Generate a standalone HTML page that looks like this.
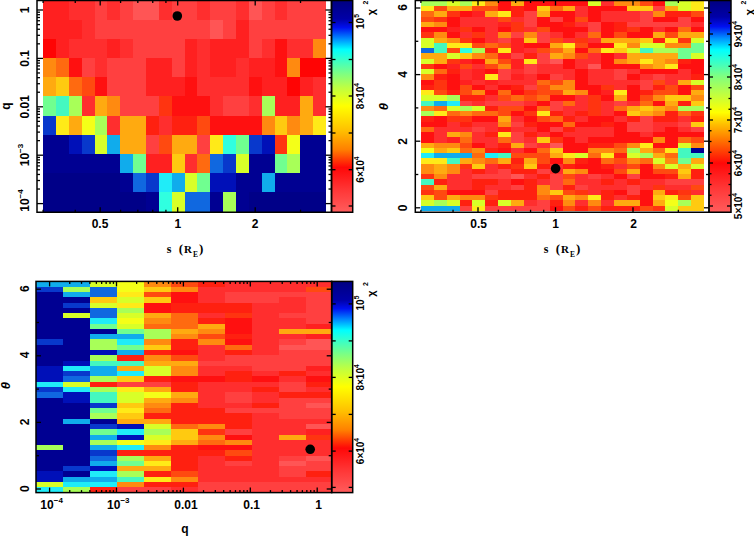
<!DOCTYPE html>
<html><head><meta charset="utf-8"><title>chi2 maps</title>
<style>html,body{margin:0;padding:0;background:#fff}body{width:754px;height:537px;overflow:hidden}</style>
</head><body>
<svg width="754" height="537" viewBox="0 0 754 537" style="display:block">
<defs>
<linearGradient id="cb1" x1="0" y1="1" x2="0" y2="0">
<stop offset="0" stop-color="#ff5c5c"/><stop offset="0.10" stop-color="#ff3838"/><stop offset="0.21" stop-color="#ff0808"/><stop offset="0.295" stop-color="#ff8000"/>
<stop offset="0.385" stop-color="#ffc000"/><stop offset="0.50" stop-color="#ffff00"/><stop offset="0.585" stop-color="#c0ff40"/>
<stop offset="0.65" stop-color="#80ff80"/><stop offset="0.71" stop-color="#40ffc0"/><stop offset="0.767" stop-color="#00ffff"/>
<stop offset="0.815" stop-color="#0090ff"/><stop offset="0.87" stop-color="#0010f0"/><stop offset="0.91" stop-color="#0000a8"/><stop offset="1" stop-color="#000080"/>
</linearGradient>
<linearGradient id="cb2" x1="0" y1="1" x2="0" y2="0">
<stop offset="0" stop-color="#ff5c5c"/><stop offset="0.11" stop-color="#ff3838"/><stop offset="0.23" stop-color="#ff0808"/><stop offset="0.35" stop-color="#ff8000"/>
<stop offset="0.415" stop-color="#ffc000"/><stop offset="0.47" stop-color="#ffff00"/><stop offset="0.555" stop-color="#c0ff40"/>
<stop offset="0.64" stop-color="#80ff80"/><stop offset="0.70" stop-color="#40ffc0"/><stop offset="0.765" stop-color="#00ffff"/>
<stop offset="0.82" stop-color="#0090ff"/><stop offset="0.875" stop-color="#0010f0"/><stop offset="0.92" stop-color="#0000a8"/><stop offset="1" stop-color="#000080"/>
</linearGradient>
</defs>
<rect width="754" height="537" fill="#fff"/>
<g shape-rendering="crispEdges">
<rect x="43.20" y="0.30" width="26.01" height="19.51" fill="#ff2020"/>
<rect x="68.91" y="0.30" width="26.01" height="19.51" fill="#ff2e2e"/>
<rect x="94.62" y="0.30" width="13.15" height="19.51" fill="#ff4040"/>
<rect x="107.47" y="0.30" width="13.15" height="19.51" fill="#ff2e2e"/>
<rect x="120.33" y="0.30" width="13.15" height="19.51" fill="#ff4040"/>
<rect x="133.18" y="0.30" width="26.01" height="19.51" fill="#ff5555"/>
<rect x="158.89" y="0.30" width="13.15" height="19.51" fill="#ff2e2e"/>
<rect x="171.75" y="0.30" width="26.01" height="19.51" fill="#ff4040"/>
<rect x="197.45" y="0.30" width="13.15" height="19.51" fill="#ff2e2e"/>
<rect x="210.31" y="0.30" width="26.01" height="19.51" fill="#ff4040"/>
<rect x="236.02" y="0.30" width="13.15" height="19.51" fill="#ff2e2e"/>
<rect x="248.87" y="0.30" width="13.15" height="19.51" fill="#ff5555"/>
<rect x="261.73" y="0.30" width="13.15" height="19.51" fill="#ff4040"/>
<rect x="274.58" y="0.30" width="13.15" height="19.51" fill="#ff2e2e"/>
<rect x="287.44" y="0.30" width="38.86" height="19.51" fill="#ff4040"/>
<rect x="43.20" y="19.51" width="38.86" height="19.51" fill="#ff2020"/>
<rect x="81.76" y="19.51" width="13.15" height="19.51" fill="#ff2e2e"/>
<rect x="94.62" y="19.51" width="115.99" height="19.51" fill="#ff4040"/>
<rect x="210.31" y="19.51" width="13.15" height="19.51" fill="#ff5555"/>
<rect x="223.16" y="19.51" width="13.15" height="19.51" fill="#ff4040"/>
<rect x="236.02" y="19.51" width="13.15" height="19.51" fill="#ff2020"/>
<rect x="248.87" y="19.51" width="77.43" height="19.51" fill="#ff4040"/>
<rect x="43.20" y="38.72" width="13.15" height="19.51" fill="#ff0404"/>
<rect x="56.05" y="38.72" width="13.15" height="19.51" fill="#ff2020"/>
<rect x="68.91" y="38.72" width="38.86" height="19.51" fill="#ff2e2e"/>
<rect x="107.47" y="38.72" width="13.15" height="19.51" fill="#ff2020"/>
<rect x="120.33" y="38.72" width="13.15" height="19.51" fill="#ff2e2e"/>
<rect x="133.18" y="38.72" width="51.72" height="19.51" fill="#ff4040"/>
<rect x="184.60" y="38.72" width="13.15" height="19.51" fill="#ff2020"/>
<rect x="197.45" y="38.72" width="13.15" height="19.51" fill="#ff2e2e"/>
<rect x="210.31" y="38.72" width="38.86" height="19.51" fill="#ff2020"/>
<rect x="248.87" y="38.72" width="13.15" height="19.51" fill="#ff4040"/>
<rect x="261.73" y="38.72" width="13.15" height="19.51" fill="#ff2e2e"/>
<rect x="274.58" y="38.72" width="13.15" height="19.51" fill="#ff1010"/>
<rect x="287.44" y="38.72" width="26.01" height="19.51" fill="#ff2e2e"/>
<rect x="313.15" y="38.72" width="13.15" height="19.51" fill="#ff8a10"/>
<rect x="43.20" y="57.93" width="13.15" height="19.51" fill="#ff8a10"/>
<rect x="56.05" y="57.93" width="13.15" height="19.51" fill="#ff6a10"/>
<rect x="68.91" y="57.93" width="13.15" height="19.51" fill="#ff1010"/>
<rect x="81.76" y="57.93" width="13.15" height="19.51" fill="#ff4040"/>
<rect x="94.62" y="57.93" width="13.15" height="19.51" fill="#ff2e2e"/>
<rect x="107.47" y="57.93" width="38.86" height="19.51" fill="#ff4040"/>
<rect x="146.04" y="57.93" width="26.01" height="19.51" fill="#ff2020"/>
<rect x="171.75" y="57.93" width="13.15" height="19.51" fill="#ff4040"/>
<rect x="184.60" y="57.93" width="13.15" height="19.51" fill="#ff2020"/>
<rect x="197.45" y="57.93" width="13.15" height="19.51" fill="#ff2e2e"/>
<rect x="210.31" y="57.93" width="26.01" height="19.51" fill="#ff2020"/>
<rect x="236.02" y="57.93" width="13.15" height="19.51" fill="#ff2e2e"/>
<rect x="248.87" y="57.93" width="26.01" height="19.51" fill="#ff2020"/>
<rect x="274.58" y="57.93" width="13.15" height="19.51" fill="#ff1010"/>
<rect x="287.44" y="57.93" width="13.15" height="19.51" fill="#ff8a10"/>
<rect x="300.29" y="57.93" width="26.01" height="19.51" fill="#ff0404"/>
<rect x="43.20" y="77.14" width="13.15" height="19.51" fill="#ffaa10"/>
<rect x="56.05" y="77.14" width="13.15" height="19.51" fill="#ffca10"/>
<rect x="68.91" y="77.14" width="13.15" height="19.51" fill="#ff6a10"/>
<rect x="81.76" y="77.14" width="13.15" height="19.51" fill="#ff4a10"/>
<rect x="94.62" y="77.14" width="13.15" height="19.51" fill="#ff1010"/>
<rect x="107.47" y="77.14" width="38.86" height="19.51" fill="#ff4040"/>
<rect x="146.04" y="77.14" width="38.86" height="19.51" fill="#ff2020"/>
<rect x="184.60" y="77.14" width="13.15" height="19.51" fill="#ff1010"/>
<rect x="197.45" y="77.14" width="51.72" height="19.51" fill="#ff2e2e"/>
<rect x="248.87" y="77.14" width="13.15" height="19.51" fill="#ff1010"/>
<rect x="261.73" y="77.14" width="26.01" height="19.51" fill="#ff2020"/>
<rect x="287.44" y="77.14" width="13.15" height="19.51" fill="#ff0404"/>
<rect x="300.29" y="77.14" width="13.15" height="19.51" fill="#ff2020"/>
<rect x="313.15" y="77.14" width="13.15" height="19.51" fill="#ff2e2e"/>
<rect x="43.20" y="96.35" width="13.15" height="19.51" fill="#70ff90"/>
<rect x="56.05" y="96.35" width="13.15" height="19.51" fill="#44f8c0"/>
<rect x="68.91" y="96.35" width="13.15" height="19.51" fill="#a8ff58"/>
<rect x="81.76" y="96.35" width="13.15" height="19.51" fill="#ff2e2e"/>
<rect x="94.62" y="96.35" width="13.15" height="19.51" fill="#ffaa10"/>
<rect x="107.47" y="96.35" width="13.15" height="19.51" fill="#ff8a10"/>
<rect x="120.33" y="96.35" width="38.86" height="19.51" fill="#ff4040"/>
<rect x="158.89" y="96.35" width="13.15" height="19.51" fill="#ff3410"/>
<rect x="171.75" y="96.35" width="38.86" height="19.51" fill="#ff1010"/>
<rect x="210.31" y="96.35" width="13.15" height="19.51" fill="#ff2e2e"/>
<rect x="223.16" y="96.35" width="26.01" height="19.51" fill="#ff4040"/>
<rect x="248.87" y="96.35" width="13.15" height="19.51" fill="#ff2e2e"/>
<rect x="261.73" y="96.35" width="13.15" height="19.51" fill="#a8ff58"/>
<rect x="274.58" y="96.35" width="26.01" height="19.51" fill="#ff2020"/>
<rect x="300.29" y="96.35" width="13.15" height="19.51" fill="#ffaa10"/>
<rect x="313.15" y="96.35" width="13.15" height="19.51" fill="#ff2e2e"/>
<rect x="43.20" y="115.55" width="13.15" height="19.51" fill="#0838cc"/>
<rect x="56.05" y="115.55" width="13.15" height="19.51" fill="#ffea18"/>
<rect x="68.91" y="115.55" width="13.15" height="19.51" fill="#ffaa10"/>
<rect x="81.76" y="115.55" width="13.15" height="19.51" fill="#f4ff18"/>
<rect x="94.62" y="115.55" width="13.15" height="19.51" fill="#a8ff58"/>
<rect x="107.47" y="115.55" width="13.15" height="19.51" fill="#ff2e2e"/>
<rect x="120.33" y="115.55" width="26.01" height="19.51" fill="#ffaa10"/>
<rect x="146.04" y="115.55" width="13.15" height="19.51" fill="#ff2010"/>
<rect x="158.89" y="115.55" width="13.15" height="19.51" fill="#ff2e2e"/>
<rect x="171.75" y="115.55" width="26.01" height="19.51" fill="#ff2010"/>
<rect x="197.45" y="115.55" width="13.15" height="19.51" fill="#ff4a10"/>
<rect x="210.31" y="115.55" width="51.72" height="19.51" fill="#ff1010"/>
<rect x="261.73" y="115.55" width="13.15" height="19.51" fill="#ff8a10"/>
<rect x="274.58" y="115.55" width="13.15" height="19.51" fill="#ffca10"/>
<rect x="287.44" y="115.55" width="13.15" height="19.51" fill="#ff8a10"/>
<rect x="300.29" y="115.55" width="13.15" height="19.51" fill="#ffaa10"/>
<rect x="313.15" y="115.55" width="13.15" height="19.51" fill="#ffea18"/>
<rect x="43.20" y="134.76" width="26.01" height="19.51" fill="#000092"/>
<rect x="68.91" y="134.76" width="13.15" height="19.51" fill="#0010b8"/>
<rect x="81.76" y="134.76" width="13.15" height="19.51" fill="#0838cc"/>
<rect x="94.62" y="134.76" width="13.15" height="19.51" fill="#d8ff28"/>
<rect x="107.47" y="134.76" width="13.15" height="19.51" fill="#10acec"/>
<rect x="120.33" y="134.76" width="26.01" height="19.51" fill="#ffaa10"/>
<rect x="146.04" y="134.76" width="13.15" height="19.51" fill="#ff4040"/>
<rect x="158.89" y="134.76" width="13.15" height="19.51" fill="#ff4a10"/>
<rect x="171.75" y="134.76" width="26.01" height="19.51" fill="#ffaa10"/>
<rect x="197.45" y="134.76" width="13.15" height="19.51" fill="#ff4040"/>
<rect x="210.31" y="134.76" width="13.15" height="19.51" fill="#ffea18"/>
<rect x="223.16" y="134.76" width="13.15" height="19.51" fill="#30ffe0"/>
<rect x="236.02" y="134.76" width="13.15" height="19.51" fill="#70ff90"/>
<rect x="248.87" y="134.76" width="13.15" height="19.51" fill="#0838cc"/>
<rect x="261.73" y="134.76" width="13.15" height="19.51" fill="#0010b8"/>
<rect x="274.58" y="134.76" width="13.15" height="19.51" fill="#ff3410"/>
<rect x="287.44" y="134.76" width="13.15" height="19.51" fill="#f4ff18"/>
<rect x="300.29" y="134.76" width="26.01" height="19.51" fill="#000092"/>
<rect x="43.20" y="153.97" width="77.43" height="19.51" fill="#000092"/>
<rect x="120.33" y="153.97" width="13.15" height="19.51" fill="#10acec"/>
<rect x="133.18" y="153.97" width="13.15" height="19.51" fill="#70ff90"/>
<rect x="146.04" y="153.97" width="26.01" height="19.51" fill="#ff2020"/>
<rect x="171.75" y="153.97" width="13.15" height="19.51" fill="#ffca10"/>
<rect x="184.60" y="153.97" width="13.15" height="19.51" fill="#ff2e2e"/>
<rect x="197.45" y="153.97" width="13.15" height="19.51" fill="#ff6a10"/>
<rect x="210.31" y="153.97" width="13.15" height="19.51" fill="#1068e0"/>
<rect x="223.16" y="153.97" width="13.15" height="19.51" fill="#0838cc"/>
<rect x="236.02" y="153.97" width="13.15" height="19.51" fill="#d8ff28"/>
<rect x="248.87" y="153.97" width="26.01" height="19.51" fill="#000092"/>
<rect x="274.58" y="153.97" width="13.15" height="19.51" fill="#70ff90"/>
<rect x="287.44" y="153.97" width="13.15" height="19.51" fill="#a8ff58"/>
<rect x="300.29" y="153.97" width="26.01" height="19.51" fill="#000092"/>
<rect x="43.20" y="173.18" width="77.43" height="19.51" fill="#000088"/>
<rect x="120.33" y="173.18" width="13.15" height="19.51" fill="#000092"/>
<rect x="133.18" y="173.18" width="13.15" height="19.51" fill="#1068e0"/>
<rect x="146.04" y="173.18" width="13.15" height="19.51" fill="#0838cc"/>
<rect x="158.89" y="173.18" width="13.15" height="19.51" fill="#20ecf8"/>
<rect x="171.75" y="173.18" width="13.15" height="19.51" fill="#10acec"/>
<rect x="184.60" y="173.18" width="13.15" height="19.51" fill="#d8ff28"/>
<rect x="197.45" y="173.18" width="13.15" height="19.51" fill="#70ff90"/>
<rect x="210.31" y="173.18" width="26.01" height="19.51" fill="#0010b8"/>
<rect x="236.02" y="173.18" width="26.01" height="19.51" fill="#000092"/>
<rect x="261.73" y="173.18" width="13.15" height="19.51" fill="#10acec"/>
<rect x="274.58" y="173.18" width="51.72" height="19.51" fill="#000092"/>
<rect x="43.20" y="192.39" width="103.14" height="19.51" fill="#000088"/>
<rect x="146.04" y="192.39" width="13.15" height="19.51" fill="#000092"/>
<rect x="158.89" y="192.39" width="13.15" height="19.51" fill="#30ffe0"/>
<rect x="171.75" y="192.39" width="13.15" height="19.51" fill="#d8ff28"/>
<rect x="184.60" y="192.39" width="26.01" height="19.51" fill="#1068e0"/>
<rect x="210.31" y="192.39" width="13.15" height="19.51" fill="#000092"/>
<rect x="223.16" y="192.39" width="13.15" height="19.51" fill="#a8ff58"/>
<rect x="236.02" y="192.39" width="13.15" height="19.51" fill="#000092"/>
<rect x="248.87" y="192.39" width="77.43" height="19.51" fill="#000088"/>
<rect x="421.00" y="0.90" width="26.03" height="5.55" fill="#a8ff58"/>
<rect x="446.73" y="0.90" width="13.16" height="5.55" fill="#d8ff28"/>
<rect x="459.59" y="0.90" width="13.16" height="5.55" fill="#a8ff58"/>
<rect x="472.45" y="0.90" width="13.16" height="5.55" fill="#ffea18"/>
<rect x="485.32" y="0.90" width="13.16" height="5.55" fill="#ff8a10"/>
<rect x="498.18" y="0.90" width="13.16" height="5.55" fill="#ff1010"/>
<rect x="511.05" y="0.90" width="13.16" height="5.55" fill="#ffaa10"/>
<rect x="523.91" y="0.90" width="64.62" height="5.55" fill="#ff1010"/>
<rect x="588.23" y="0.90" width="13.16" height="5.55" fill="#d8ff28"/>
<rect x="601.09" y="0.90" width="13.16" height="5.55" fill="#ff2e2e"/>
<rect x="613.95" y="0.90" width="26.03" height="5.55" fill="#ff8a10"/>
<rect x="639.68" y="0.90" width="13.16" height="5.55" fill="#ff4a10"/>
<rect x="652.55" y="0.90" width="13.16" height="5.55" fill="#ff1010"/>
<rect x="665.41" y="0.90" width="13.16" height="5.55" fill="#a8ff58"/>
<rect x="678.27" y="0.90" width="13.16" height="5.55" fill="#d8ff28"/>
<rect x="691.14" y="0.90" width="13.16" height="5.55" fill="#ffea18"/>
<rect x="421.00" y="6.15" width="13.16" height="5.55" fill="#ffea18"/>
<rect x="433.86" y="6.15" width="13.16" height="5.55" fill="#ff4a10"/>
<rect x="446.73" y="6.15" width="26.03" height="5.55" fill="#ffaa10"/>
<rect x="472.45" y="6.15" width="26.03" height="5.55" fill="#ff4a10"/>
<rect x="498.18" y="6.15" width="13.16" height="5.55" fill="#ff1010"/>
<rect x="511.05" y="6.15" width="13.16" height="5.55" fill="#ff2010"/>
<rect x="523.91" y="6.15" width="13.16" height="5.55" fill="#ff1010"/>
<rect x="536.77" y="6.15" width="13.16" height="5.55" fill="#ffca10"/>
<rect x="549.64" y="6.15" width="13.16" height="5.55" fill="#ff6a10"/>
<rect x="562.50" y="6.15" width="13.16" height="5.55" fill="#ffaa10"/>
<rect x="575.36" y="6.15" width="13.16" height="5.55" fill="#ff2e2e"/>
<rect x="588.23" y="6.15" width="38.89" height="5.55" fill="#ff1010"/>
<rect x="626.82" y="6.15" width="26.03" height="5.55" fill="#ffca10"/>
<rect x="652.55" y="6.15" width="13.16" height="5.55" fill="#ff4040"/>
<rect x="665.41" y="6.15" width="13.16" height="5.55" fill="#ffaa10"/>
<rect x="678.27" y="6.15" width="13.16" height="5.55" fill="#d8ff28"/>
<rect x="691.14" y="6.15" width="13.16" height="5.55" fill="#ffea18"/>
<rect x="421.00" y="11.40" width="13.16" height="5.55" fill="#ff6a10"/>
<rect x="433.86" y="11.40" width="13.16" height="5.55" fill="#ffaa10"/>
<rect x="446.73" y="11.40" width="13.16" height="5.55" fill="#ff3410"/>
<rect x="459.59" y="11.40" width="13.16" height="5.55" fill="#ff1010"/>
<rect x="472.45" y="11.40" width="13.16" height="5.55" fill="#ff2020"/>
<rect x="485.32" y="11.40" width="13.16" height="5.55" fill="#ffaa10"/>
<rect x="498.18" y="11.40" width="13.16" height="5.55" fill="#ffea18"/>
<rect x="511.05" y="11.40" width="13.16" height="5.55" fill="#ff2010"/>
<rect x="523.91" y="11.40" width="13.16" height="5.55" fill="#ff4040"/>
<rect x="536.77" y="11.40" width="13.16" height="5.55" fill="#ffaa10"/>
<rect x="549.64" y="11.40" width="26.03" height="5.55" fill="#ff1010"/>
<rect x="575.36" y="11.40" width="13.16" height="5.55" fill="#ff2e2e"/>
<rect x="588.23" y="11.40" width="13.16" height="5.55" fill="#ff1010"/>
<rect x="601.09" y="11.40" width="38.89" height="5.55" fill="#ff2e2e"/>
<rect x="639.68" y="11.40" width="13.16" height="5.55" fill="#ff4040"/>
<rect x="652.55" y="11.40" width="13.16" height="5.55" fill="#ff8a10"/>
<rect x="665.41" y="11.40" width="26.03" height="5.55" fill="#ff2010"/>
<rect x="691.14" y="11.40" width="13.16" height="5.55" fill="#ff4a10"/>
<rect x="421.00" y="16.65" width="13.16" height="5.55" fill="#ff4a10"/>
<rect x="433.86" y="16.65" width="13.16" height="5.55" fill="#ff3410"/>
<rect x="446.73" y="16.65" width="13.16" height="5.55" fill="#ff1010"/>
<rect x="459.59" y="16.65" width="38.89" height="5.55" fill="#ff2e2e"/>
<rect x="498.18" y="16.65" width="13.16" height="5.55" fill="#ff4a10"/>
<rect x="511.05" y="16.65" width="13.16" height="5.55" fill="#ff2e2e"/>
<rect x="523.91" y="16.65" width="13.16" height="5.55" fill="#ff4040"/>
<rect x="536.77" y="16.65" width="13.16" height="5.55" fill="#ff1010"/>
<rect x="549.64" y="16.65" width="13.16" height="5.55" fill="#ff4040"/>
<rect x="562.50" y="16.65" width="13.16" height="5.55" fill="#ff1010"/>
<rect x="575.36" y="16.65" width="13.16" height="5.55" fill="#ff4a10"/>
<rect x="588.23" y="16.65" width="13.16" height="5.55" fill="#ff1010"/>
<rect x="601.09" y="16.65" width="38.89" height="5.55" fill="#ff2e2e"/>
<rect x="639.68" y="16.65" width="13.16" height="5.55" fill="#ff4040"/>
<rect x="652.55" y="16.65" width="26.03" height="5.55" fill="#ff1010"/>
<rect x="678.27" y="16.65" width="13.16" height="5.55" fill="#ff4040"/>
<rect x="691.14" y="16.65" width="13.16" height="5.55" fill="#ff1010"/>
<rect x="421.00" y="21.90" width="13.16" height="5.55" fill="#ffaa10"/>
<rect x="433.86" y="21.90" width="13.16" height="5.55" fill="#ff8a10"/>
<rect x="446.73" y="21.90" width="13.16" height="5.55" fill="#ff1010"/>
<rect x="459.59" y="21.90" width="38.89" height="5.55" fill="#ff2e2e"/>
<rect x="498.18" y="21.90" width="13.16" height="5.55" fill="#ff2020"/>
<rect x="511.05" y="21.90" width="13.16" height="5.55" fill="#ff3410"/>
<rect x="523.91" y="21.90" width="13.16" height="5.55" fill="#ff4040"/>
<rect x="536.77" y="21.90" width="26.03" height="5.55" fill="#ff1010"/>
<rect x="562.50" y="21.90" width="13.16" height="5.55" fill="#ff2010"/>
<rect x="575.36" y="21.90" width="13.16" height="5.55" fill="#ff2e2e"/>
<rect x="588.23" y="21.90" width="13.16" height="5.55" fill="#ff4040"/>
<rect x="601.09" y="21.90" width="13.16" height="5.55" fill="#ff1010"/>
<rect x="613.95" y="21.90" width="13.16" height="5.55" fill="#ff2010"/>
<rect x="626.82" y="21.90" width="64.62" height="5.55" fill="#ff4040"/>
<rect x="691.14" y="21.90" width="13.16" height="5.55" fill="#ff2e2e"/>
<rect x="421.00" y="27.15" width="26.03" height="5.55" fill="#ff1010"/>
<rect x="446.73" y="27.15" width="13.16" height="5.55" fill="#ff2020"/>
<rect x="459.59" y="27.15" width="13.16" height="5.55" fill="#ff3410"/>
<rect x="472.45" y="27.15" width="13.16" height="5.55" fill="#ff1010"/>
<rect x="485.32" y="27.15" width="13.16" height="5.55" fill="#ff2e2e"/>
<rect x="498.18" y="27.15" width="13.16" height="5.55" fill="#ff1010"/>
<rect x="511.05" y="27.15" width="13.16" height="5.55" fill="#ff3410"/>
<rect x="523.91" y="27.15" width="13.16" height="5.55" fill="#ff2e2e"/>
<rect x="536.77" y="27.15" width="13.16" height="5.55" fill="#ff4a10"/>
<rect x="549.64" y="27.15" width="38.89" height="5.55" fill="#ff1010"/>
<rect x="588.23" y="27.15" width="13.16" height="5.55" fill="#ff4040"/>
<rect x="601.09" y="27.15" width="13.16" height="5.55" fill="#ff1010"/>
<rect x="613.95" y="27.15" width="13.16" height="5.55" fill="#ff2010"/>
<rect x="626.82" y="27.15" width="13.16" height="5.55" fill="#ff3410"/>
<rect x="639.68" y="27.15" width="13.16" height="5.55" fill="#ff1010"/>
<rect x="652.55" y="27.15" width="13.16" height="5.55" fill="#ff2e2e"/>
<rect x="665.41" y="27.15" width="13.16" height="5.55" fill="#ff1010"/>
<rect x="678.27" y="27.15" width="13.16" height="5.55" fill="#ff6a10"/>
<rect x="691.14" y="27.15" width="13.16" height="5.55" fill="#ff1010"/>
<rect x="421.00" y="32.40" width="13.16" height="5.55" fill="#ff3410"/>
<rect x="433.86" y="32.40" width="13.16" height="5.55" fill="#ff8a10"/>
<rect x="446.73" y="32.40" width="13.16" height="5.55" fill="#ff1010"/>
<rect x="459.59" y="32.40" width="13.16" height="5.55" fill="#ff2e2e"/>
<rect x="472.45" y="32.40" width="13.16" height="5.55" fill="#ff3410"/>
<rect x="485.32" y="32.40" width="13.16" height="5.55" fill="#ff2e2e"/>
<rect x="498.18" y="32.40" width="13.16" height="5.55" fill="#ff8a10"/>
<rect x="511.05" y="32.40" width="13.16" height="5.55" fill="#ff4040"/>
<rect x="523.91" y="32.40" width="13.16" height="5.55" fill="#ff8a10"/>
<rect x="536.77" y="32.40" width="13.16" height="5.55" fill="#ff4040"/>
<rect x="549.64" y="32.40" width="13.16" height="5.55" fill="#ff2e2e"/>
<rect x="562.50" y="32.40" width="13.16" height="5.55" fill="#ff1010"/>
<rect x="575.36" y="32.40" width="13.16" height="5.55" fill="#ff2e2e"/>
<rect x="588.23" y="32.40" width="13.16" height="5.55" fill="#ff6a10"/>
<rect x="601.09" y="32.40" width="13.16" height="5.55" fill="#ff1010"/>
<rect x="613.95" y="32.40" width="13.16" height="5.55" fill="#ff4a10"/>
<rect x="626.82" y="32.40" width="26.03" height="5.55" fill="#ff1010"/>
<rect x="652.55" y="32.40" width="13.16" height="5.55" fill="#ffaa10"/>
<rect x="665.41" y="32.40" width="13.16" height="5.55" fill="#ff4a10"/>
<rect x="678.27" y="32.40" width="26.03" height="5.55" fill="#ffaa10"/>
<rect x="421.00" y="37.65" width="13.16" height="5.55" fill="#d8ff28"/>
<rect x="433.86" y="37.65" width="13.16" height="5.55" fill="#ffaa10"/>
<rect x="446.73" y="37.65" width="13.16" height="5.55" fill="#ff8a10"/>
<rect x="459.59" y="37.65" width="13.16" height="5.55" fill="#ff3410"/>
<rect x="472.45" y="37.65" width="13.16" height="5.55" fill="#ff1010"/>
<rect x="485.32" y="37.65" width="13.16" height="5.55" fill="#ff2e2e"/>
<rect x="498.18" y="37.65" width="13.16" height="5.55" fill="#ff4040"/>
<rect x="511.05" y="37.65" width="13.16" height="5.55" fill="#ff2020"/>
<rect x="523.91" y="37.65" width="13.16" height="5.55" fill="#ffca10"/>
<rect x="536.77" y="37.65" width="13.16" height="5.55" fill="#ff4040"/>
<rect x="549.64" y="37.65" width="13.16" height="5.55" fill="#ff4a10"/>
<rect x="562.50" y="37.65" width="13.16" height="5.55" fill="#ff2e2e"/>
<rect x="575.36" y="37.65" width="13.16" height="5.55" fill="#ff3410"/>
<rect x="588.23" y="37.65" width="13.16" height="5.55" fill="#ff2e2e"/>
<rect x="601.09" y="37.65" width="38.89" height="5.55" fill="#ffaa10"/>
<rect x="639.68" y="37.65" width="13.16" height="5.55" fill="#ffca10"/>
<rect x="652.55" y="37.65" width="13.16" height="5.55" fill="#ff2010"/>
<rect x="665.41" y="37.65" width="13.16" height="5.55" fill="#ffea18"/>
<rect x="678.27" y="37.65" width="13.16" height="5.55" fill="#ff3410"/>
<rect x="691.14" y="37.65" width="13.16" height="5.55" fill="#d8ff28"/>
<rect x="421.00" y="42.90" width="13.16" height="5.55" fill="#d8ff28"/>
<rect x="433.86" y="42.90" width="13.16" height="5.55" fill="#44f8c0"/>
<rect x="446.73" y="42.90" width="26.03" height="5.55" fill="#ffea18"/>
<rect x="472.45" y="42.90" width="13.16" height="5.55" fill="#ff4a10"/>
<rect x="485.32" y="42.90" width="13.16" height="5.55" fill="#ff6a10"/>
<rect x="498.18" y="42.90" width="13.16" height="5.55" fill="#ff4a10"/>
<rect x="511.05" y="42.90" width="13.16" height="5.55" fill="#ff2020"/>
<rect x="523.91" y="42.90" width="26.03" height="5.55" fill="#ff1010"/>
<rect x="549.64" y="42.90" width="13.16" height="5.55" fill="#ffaa10"/>
<rect x="562.50" y="42.90" width="13.16" height="5.55" fill="#ffea18"/>
<rect x="575.36" y="42.90" width="13.16" height="5.55" fill="#ff4a10"/>
<rect x="588.23" y="42.90" width="26.03" height="5.55" fill="#ff1010"/>
<rect x="613.95" y="42.90" width="13.16" height="5.55" fill="#ffea18"/>
<rect x="626.82" y="42.90" width="13.16" height="5.55" fill="#ff8a10"/>
<rect x="639.68" y="42.90" width="26.03" height="5.55" fill="#d8ff28"/>
<rect x="665.41" y="42.90" width="26.03" height="5.55" fill="#ff8a10"/>
<rect x="691.14" y="42.90" width="13.16" height="5.55" fill="#70ff90"/>
<rect x="421.00" y="48.15" width="13.16" height="5.55" fill="#1068e0"/>
<rect x="433.86" y="48.15" width="13.16" height="5.55" fill="#44f8c0"/>
<rect x="446.73" y="48.15" width="13.16" height="5.55" fill="#ff4a10"/>
<rect x="459.59" y="48.15" width="13.16" height="5.55" fill="#30ffe0"/>
<rect x="472.45" y="48.15" width="13.16" height="5.55" fill="#a8ff58"/>
<rect x="485.32" y="48.15" width="13.16" height="5.55" fill="#ff2010"/>
<rect x="498.18" y="48.15" width="13.16" height="5.55" fill="#ffea18"/>
<rect x="511.05" y="48.15" width="13.16" height="5.55" fill="#ff2020"/>
<rect x="523.91" y="48.15" width="13.16" height="5.55" fill="#ff2e2e"/>
<rect x="536.77" y="48.15" width="13.16" height="5.55" fill="#ff4a10"/>
<rect x="549.64" y="48.15" width="13.16" height="5.55" fill="#ff6a10"/>
<rect x="562.50" y="48.15" width="13.16" height="5.55" fill="#ffaa10"/>
<rect x="575.36" y="48.15" width="13.16" height="5.55" fill="#ff1010"/>
<rect x="588.23" y="48.15" width="13.16" height="5.55" fill="#ff6a10"/>
<rect x="601.09" y="48.15" width="13.16" height="5.55" fill="#ffea18"/>
<rect x="613.95" y="48.15" width="13.16" height="5.55" fill="#ffca10"/>
<rect x="626.82" y="48.15" width="13.16" height="5.55" fill="#d8ff28"/>
<rect x="639.68" y="48.15" width="13.16" height="5.55" fill="#44f8c0"/>
<rect x="652.55" y="48.15" width="26.03" height="5.55" fill="#a8ff58"/>
<rect x="678.27" y="48.15" width="26.03" height="5.55" fill="#70ff90"/>
<rect x="421.00" y="53.40" width="26.03" height="5.55" fill="#ffaa10"/>
<rect x="446.73" y="53.40" width="13.16" height="5.55" fill="#d8ff28"/>
<rect x="459.59" y="53.40" width="13.16" height="5.55" fill="#ffca10"/>
<rect x="472.45" y="53.40" width="13.16" height="5.55" fill="#ff8a10"/>
<rect x="485.32" y="53.40" width="13.16" height="5.55" fill="#ff6a10"/>
<rect x="498.18" y="53.40" width="13.16" height="5.55" fill="#ff2020"/>
<rect x="511.05" y="53.40" width="13.16" height="5.55" fill="#ff4040"/>
<rect x="523.91" y="53.40" width="13.16" height="5.55" fill="#ff2010"/>
<rect x="536.77" y="53.40" width="13.16" height="5.55" fill="#ff4040"/>
<rect x="549.64" y="53.40" width="13.16" height="5.55" fill="#ffaa10"/>
<rect x="562.50" y="53.40" width="13.16" height="5.55" fill="#ff8a10"/>
<rect x="575.36" y="53.40" width="13.16" height="5.55" fill="#ff4a10"/>
<rect x="588.23" y="53.40" width="13.16" height="5.55" fill="#ff2e2e"/>
<rect x="601.09" y="53.40" width="13.16" height="5.55" fill="#ff1010"/>
<rect x="613.95" y="53.40" width="13.16" height="5.55" fill="#ff2e2e"/>
<rect x="626.82" y="53.40" width="51.75" height="5.55" fill="#ffaa10"/>
<rect x="678.27" y="53.40" width="13.16" height="5.55" fill="#70ff90"/>
<rect x="691.14" y="53.40" width="13.16" height="5.55" fill="#d8ff28"/>
<rect x="421.00" y="58.65" width="13.16" height="5.55" fill="#d8ff28"/>
<rect x="433.86" y="58.65" width="13.16" height="5.55" fill="#ffaa10"/>
<rect x="446.73" y="58.65" width="13.16" height="5.55" fill="#ff3410"/>
<rect x="459.59" y="58.65" width="13.16" height="5.55" fill="#ff2020"/>
<rect x="472.45" y="58.65" width="13.16" height="5.55" fill="#ff1010"/>
<rect x="485.32" y="58.65" width="13.16" height="5.55" fill="#ffaa10"/>
<rect x="498.18" y="58.65" width="13.16" height="5.55" fill="#ff4a10"/>
<rect x="511.05" y="58.65" width="13.16" height="5.55" fill="#ff2020"/>
<rect x="523.91" y="58.65" width="13.16" height="5.55" fill="#ffea18"/>
<rect x="536.77" y="58.65" width="13.16" height="5.55" fill="#ff4040"/>
<rect x="549.64" y="58.65" width="13.16" height="5.55" fill="#ff5555"/>
<rect x="562.50" y="58.65" width="13.16" height="5.55" fill="#ff1010"/>
<rect x="575.36" y="58.65" width="26.03" height="5.55" fill="#ff2e2e"/>
<rect x="601.09" y="58.65" width="13.16" height="5.55" fill="#ff1010"/>
<rect x="613.95" y="58.65" width="13.16" height="5.55" fill="#ff8a10"/>
<rect x="626.82" y="58.65" width="13.16" height="5.55" fill="#ffaa10"/>
<rect x="639.68" y="58.65" width="13.16" height="5.55" fill="#ffea18"/>
<rect x="652.55" y="58.65" width="13.16" height="5.55" fill="#ffaa10"/>
<rect x="665.41" y="58.65" width="13.16" height="5.55" fill="#ff8a10"/>
<rect x="678.27" y="58.65" width="13.16" height="5.55" fill="#ff2010"/>
<rect x="691.14" y="58.65" width="13.16" height="5.55" fill="#ff1010"/>
<rect x="421.00" y="63.90" width="13.16" height="5.55" fill="#ff3410"/>
<rect x="433.86" y="63.90" width="13.16" height="5.55" fill="#ff1010"/>
<rect x="446.73" y="63.90" width="13.16" height="5.55" fill="#ff2020"/>
<rect x="459.59" y="63.90" width="13.16" height="5.55" fill="#ff4a10"/>
<rect x="472.45" y="63.90" width="13.16" height="5.55" fill="#ff2e2e"/>
<rect x="485.32" y="63.90" width="13.16" height="5.55" fill="#ff4a10"/>
<rect x="498.18" y="63.90" width="13.16" height="5.55" fill="#ff8a10"/>
<rect x="511.05" y="63.90" width="13.16" height="5.55" fill="#ff2020"/>
<rect x="523.91" y="63.90" width="13.16" height="5.55" fill="#ff4040"/>
<rect x="536.77" y="63.90" width="26.03" height="5.55" fill="#ff2e2e"/>
<rect x="562.50" y="63.90" width="13.16" height="5.55" fill="#ff1010"/>
<rect x="575.36" y="63.90" width="13.16" height="5.55" fill="#ff2e2e"/>
<rect x="588.23" y="63.90" width="13.16" height="5.55" fill="#ff5555"/>
<rect x="601.09" y="63.90" width="38.89" height="5.55" fill="#ff1010"/>
<rect x="639.68" y="63.90" width="13.16" height="5.55" fill="#ff8a10"/>
<rect x="652.55" y="63.90" width="13.16" height="5.55" fill="#ffaa10"/>
<rect x="665.41" y="63.90" width="13.16" height="5.55" fill="#ffea18"/>
<rect x="678.27" y="63.90" width="26.03" height="5.55" fill="#ff1010"/>
<rect x="421.00" y="69.15" width="13.16" height="5.55" fill="#d8ff28"/>
<rect x="433.86" y="69.15" width="13.16" height="5.55" fill="#ff6a10"/>
<rect x="446.73" y="69.15" width="13.16" height="5.55" fill="#ff2010"/>
<rect x="459.59" y="69.15" width="13.16" height="5.55" fill="#ff2e2e"/>
<rect x="472.45" y="69.15" width="13.16" height="5.55" fill="#ff2020"/>
<rect x="485.32" y="69.15" width="13.16" height="5.55" fill="#ff1010"/>
<rect x="498.18" y="69.15" width="13.16" height="5.55" fill="#ff4040"/>
<rect x="511.05" y="69.15" width="13.16" height="5.55" fill="#ff2e2e"/>
<rect x="523.91" y="69.15" width="13.16" height="5.55" fill="#ff4040"/>
<rect x="536.77" y="69.15" width="38.89" height="5.55" fill="#ff2e2e"/>
<rect x="575.36" y="69.15" width="13.16" height="5.55" fill="#ff1010"/>
<rect x="588.23" y="69.15" width="26.03" height="5.55" fill="#ff2e2e"/>
<rect x="613.95" y="69.15" width="13.16" height="5.55" fill="#ff4040"/>
<rect x="626.82" y="69.15" width="13.16" height="5.55" fill="#ff2e2e"/>
<rect x="639.68" y="69.15" width="38.89" height="5.55" fill="#ff1010"/>
<rect x="678.27" y="69.15" width="13.16" height="5.55" fill="#ff2e2e"/>
<rect x="691.14" y="69.15" width="13.16" height="5.55" fill="#ff1010"/>
<rect x="421.00" y="74.40" width="13.16" height="5.55" fill="#ff8a10"/>
<rect x="433.86" y="74.40" width="13.16" height="5.55" fill="#ff2010"/>
<rect x="446.73" y="74.40" width="13.16" height="5.55" fill="#ff1010"/>
<rect x="459.59" y="74.40" width="13.16" height="5.55" fill="#ff2e2e"/>
<rect x="472.45" y="74.40" width="13.16" height="5.55" fill="#ff2020"/>
<rect x="485.32" y="74.40" width="13.16" height="5.55" fill="#ffea18"/>
<rect x="498.18" y="74.40" width="13.16" height="5.55" fill="#ff4040"/>
<rect x="511.05" y="74.40" width="13.16" height="5.55" fill="#ff2020"/>
<rect x="523.91" y="74.40" width="13.16" height="5.55" fill="#ff2e2e"/>
<rect x="536.77" y="74.40" width="13.16" height="5.55" fill="#ff1010"/>
<rect x="549.64" y="74.40" width="13.16" height="5.55" fill="#ff4040"/>
<rect x="562.50" y="74.40" width="13.16" height="5.55" fill="#ff2e2e"/>
<rect x="575.36" y="74.40" width="13.16" height="5.55" fill="#ff1010"/>
<rect x="588.23" y="74.40" width="26.03" height="5.55" fill="#ff2e2e"/>
<rect x="613.95" y="74.40" width="13.16" height="5.55" fill="#ff4040"/>
<rect x="626.82" y="74.40" width="13.16" height="5.55" fill="#ff1010"/>
<rect x="639.68" y="74.40" width="13.16" height="5.55" fill="#ff2e2e"/>
<rect x="652.55" y="74.40" width="13.16" height="5.55" fill="#ff4040"/>
<rect x="665.41" y="74.40" width="26.03" height="5.55" fill="#ff2e2e"/>
<rect x="691.14" y="74.40" width="13.16" height="5.55" fill="#ff2010"/>
<rect x="421.00" y="79.65" width="13.16" height="5.55" fill="#ff1010"/>
<rect x="433.86" y="79.65" width="13.16" height="5.55" fill="#ff3410"/>
<rect x="446.73" y="79.65" width="13.16" height="5.55" fill="#ff1010"/>
<rect x="459.59" y="79.65" width="13.16" height="5.55" fill="#ff2020"/>
<rect x="472.45" y="79.65" width="13.16" height="5.55" fill="#ff2e2e"/>
<rect x="485.32" y="79.65" width="13.16" height="5.55" fill="#ff2020"/>
<rect x="498.18" y="79.65" width="38.89" height="5.55" fill="#ff2e2e"/>
<rect x="536.77" y="79.65" width="13.16" height="5.55" fill="#ff6a10"/>
<rect x="549.64" y="79.65" width="13.16" height="5.55" fill="#ff4a10"/>
<rect x="562.50" y="79.65" width="13.16" height="5.55" fill="#ff8a10"/>
<rect x="575.36" y="79.65" width="13.16" height="5.55" fill="#ff1010"/>
<rect x="588.23" y="79.65" width="51.75" height="5.55" fill="#ff2e2e"/>
<rect x="639.68" y="79.65" width="13.16" height="5.55" fill="#ff4040"/>
<rect x="652.55" y="79.65" width="13.16" height="5.55" fill="#ff4a10"/>
<rect x="665.41" y="79.65" width="13.16" height="5.55" fill="#ff2e2e"/>
<rect x="678.27" y="79.65" width="13.16" height="5.55" fill="#ffaa10"/>
<rect x="691.14" y="79.65" width="13.16" height="5.55" fill="#d8ff28"/>
<rect x="421.00" y="84.90" width="13.16" height="5.55" fill="#ff2010"/>
<rect x="433.86" y="84.90" width="13.16" height="5.55" fill="#ff3410"/>
<rect x="446.73" y="84.90" width="13.16" height="5.55" fill="#ff1010"/>
<rect x="459.59" y="84.90" width="13.16" height="5.55" fill="#ff4a10"/>
<rect x="472.45" y="84.90" width="13.16" height="5.55" fill="#ff1010"/>
<rect x="485.32" y="84.90" width="13.16" height="5.55" fill="#ff2e2e"/>
<rect x="498.18" y="84.90" width="13.16" height="5.55" fill="#ff1010"/>
<rect x="511.05" y="84.90" width="13.16" height="5.55" fill="#ff2010"/>
<rect x="523.91" y="84.90" width="13.16" height="5.55" fill="#ff4040"/>
<rect x="536.77" y="84.90" width="13.16" height="5.55" fill="#ff4a10"/>
<rect x="549.64" y="84.90" width="26.03" height="5.55" fill="#ff8a10"/>
<rect x="575.36" y="84.90" width="26.03" height="5.55" fill="#ff1010"/>
<rect x="601.09" y="84.90" width="13.16" height="5.55" fill="#ff3410"/>
<rect x="613.95" y="84.90" width="13.16" height="5.55" fill="#ff2e2e"/>
<rect x="626.82" y="84.90" width="13.16" height="5.55" fill="#ff1010"/>
<rect x="639.68" y="84.90" width="13.16" height="5.55" fill="#ff4040"/>
<rect x="652.55" y="84.90" width="13.16" height="5.55" fill="#ff2010"/>
<rect x="665.41" y="84.90" width="13.16" height="5.55" fill="#ff4a10"/>
<rect x="678.27" y="84.90" width="13.16" height="5.55" fill="#ff1010"/>
<rect x="691.14" y="84.90" width="13.16" height="5.55" fill="#ff4a10"/>
<rect x="421.00" y="90.15" width="13.16" height="5.55" fill="#ffea18"/>
<rect x="433.86" y="90.15" width="13.16" height="5.55" fill="#ff4a10"/>
<rect x="446.73" y="90.15" width="13.16" height="5.55" fill="#ff2010"/>
<rect x="459.59" y="90.15" width="13.16" height="5.55" fill="#ff4a10"/>
<rect x="472.45" y="90.15" width="13.16" height="5.55" fill="#ff8a10"/>
<rect x="485.32" y="90.15" width="13.16" height="5.55" fill="#ff1010"/>
<rect x="498.18" y="90.15" width="13.16" height="5.55" fill="#ff6a10"/>
<rect x="511.05" y="90.15" width="13.16" height="5.55" fill="#ff1010"/>
<rect x="523.91" y="90.15" width="13.16" height="5.55" fill="#ff3410"/>
<rect x="536.77" y="90.15" width="26.03" height="5.55" fill="#ff4a10"/>
<rect x="562.50" y="90.15" width="13.16" height="5.55" fill="#ffaa10"/>
<rect x="575.36" y="90.15" width="13.16" height="5.55" fill="#ff8a10"/>
<rect x="588.23" y="90.15" width="13.16" height="5.55" fill="#ff1010"/>
<rect x="601.09" y="90.15" width="13.16" height="5.55" fill="#ff2020"/>
<rect x="613.95" y="90.15" width="13.16" height="5.55" fill="#ffea18"/>
<rect x="626.82" y="90.15" width="13.16" height="5.55" fill="#ff1010"/>
<rect x="639.68" y="90.15" width="13.16" height="5.55" fill="#ff2010"/>
<rect x="652.55" y="90.15" width="26.03" height="5.55" fill="#ff4a10"/>
<rect x="678.27" y="90.15" width="13.16" height="5.55" fill="#ff1010"/>
<rect x="691.14" y="90.15" width="13.16" height="5.55" fill="#ffaa10"/>
<rect x="421.00" y="95.40" width="26.03" height="5.55" fill="#d8ff28"/>
<rect x="446.73" y="95.40" width="13.16" height="5.55" fill="#a8ff58"/>
<rect x="459.59" y="95.40" width="26.03" height="5.55" fill="#ff2010"/>
<rect x="485.32" y="95.40" width="13.16" height="5.55" fill="#ff2e2e"/>
<rect x="498.18" y="95.40" width="13.16" height="5.55" fill="#ff4a10"/>
<rect x="511.05" y="95.40" width="13.16" height="5.55" fill="#ff6a10"/>
<rect x="523.91" y="95.40" width="13.16" height="5.55" fill="#ff4a10"/>
<rect x="536.77" y="95.40" width="13.16" height="5.55" fill="#ff6a10"/>
<rect x="549.64" y="95.40" width="26.03" height="5.55" fill="#ff1010"/>
<rect x="575.36" y="95.40" width="13.16" height="5.55" fill="#ff2e2e"/>
<rect x="588.23" y="95.40" width="13.16" height="5.55" fill="#ff3410"/>
<rect x="601.09" y="95.40" width="13.16" height="5.55" fill="#ff1010"/>
<rect x="613.95" y="95.40" width="13.16" height="5.55" fill="#ffaa10"/>
<rect x="626.82" y="95.40" width="13.16" height="5.55" fill="#ff1010"/>
<rect x="639.68" y="95.40" width="13.16" height="5.55" fill="#ff4a10"/>
<rect x="652.55" y="95.40" width="13.16" height="5.55" fill="#ff8a10"/>
<rect x="665.41" y="95.40" width="26.03" height="5.55" fill="#ffca10"/>
<rect x="691.14" y="95.40" width="13.16" height="5.55" fill="#ff8a10"/>
<rect x="421.00" y="100.65" width="13.16" height="5.55" fill="#44f8c0"/>
<rect x="433.86" y="100.65" width="13.16" height="5.55" fill="#10acec"/>
<rect x="446.73" y="100.65" width="13.16" height="5.55" fill="#20ecf8"/>
<rect x="459.59" y="100.65" width="13.16" height="5.55" fill="#ff4040"/>
<rect x="472.45" y="100.65" width="13.16" height="5.55" fill="#ff2e2e"/>
<rect x="485.32" y="100.65" width="38.89" height="5.55" fill="#ff4040"/>
<rect x="523.91" y="100.65" width="13.16" height="5.55" fill="#ff2e2e"/>
<rect x="536.77" y="100.65" width="13.16" height="5.55" fill="#ff1010"/>
<rect x="549.64" y="100.65" width="13.16" height="5.55" fill="#ff4040"/>
<rect x="562.50" y="100.65" width="13.16" height="5.55" fill="#ff6a10"/>
<rect x="575.36" y="100.65" width="13.16" height="5.55" fill="#ff2e2e"/>
<rect x="588.23" y="100.65" width="13.16" height="5.55" fill="#ff3410"/>
<rect x="601.09" y="100.65" width="13.16" height="5.55" fill="#ff2e2e"/>
<rect x="613.95" y="100.65" width="13.16" height="5.55" fill="#ff4040"/>
<rect x="626.82" y="100.65" width="13.16" height="5.55" fill="#ff2e2e"/>
<rect x="639.68" y="100.65" width="13.16" height="5.55" fill="#ff6a10"/>
<rect x="652.55" y="100.65" width="13.16" height="5.55" fill="#ff1010"/>
<rect x="665.41" y="100.65" width="13.16" height="5.55" fill="#ffaa10"/>
<rect x="678.27" y="100.65" width="13.16" height="5.55" fill="#ff2010"/>
<rect x="691.14" y="100.65" width="13.16" height="5.55" fill="#ffca10"/>
<rect x="421.00" y="105.90" width="13.16" height="5.55" fill="#ff8a10"/>
<rect x="433.86" y="105.90" width="13.16" height="5.55" fill="#ff6a10"/>
<rect x="446.73" y="105.90" width="13.16" height="5.55" fill="#d8ff28"/>
<rect x="459.59" y="105.90" width="13.16" height="5.55" fill="#a8ff58"/>
<rect x="472.45" y="105.90" width="13.16" height="5.55" fill="#d8ff28"/>
<rect x="485.32" y="105.90" width="13.16" height="5.55" fill="#ff2010"/>
<rect x="498.18" y="105.90" width="26.03" height="5.55" fill="#ff4a10"/>
<rect x="523.91" y="105.90" width="13.16" height="5.55" fill="#ff1010"/>
<rect x="536.77" y="105.90" width="13.16" height="5.55" fill="#ff6a10"/>
<rect x="549.64" y="105.90" width="13.16" height="5.55" fill="#ff4040"/>
<rect x="562.50" y="105.90" width="26.03" height="5.55" fill="#ff2e2e"/>
<rect x="588.23" y="105.90" width="13.16" height="5.55" fill="#ff3410"/>
<rect x="601.09" y="105.90" width="13.16" height="5.55" fill="#ff2e2e"/>
<rect x="613.95" y="105.90" width="13.16" height="5.55" fill="#ff6a10"/>
<rect x="626.82" y="105.90" width="13.16" height="5.55" fill="#ffaa10"/>
<rect x="639.68" y="105.90" width="13.16" height="5.55" fill="#ffca10"/>
<rect x="652.55" y="105.90" width="13.16" height="5.55" fill="#ffaa10"/>
<rect x="665.41" y="105.90" width="13.16" height="5.55" fill="#ff8a10"/>
<rect x="678.27" y="105.90" width="26.03" height="5.55" fill="#a8ff58"/>
<rect x="421.00" y="111.15" width="13.16" height="5.55" fill="#a8ff58"/>
<rect x="433.86" y="111.15" width="13.16" height="5.55" fill="#ffea18"/>
<rect x="446.73" y="111.15" width="13.16" height="5.55" fill="#ff6a10"/>
<rect x="459.59" y="111.15" width="13.16" height="5.55" fill="#ff8a10"/>
<rect x="472.45" y="111.15" width="26.03" height="5.55" fill="#ff6a10"/>
<rect x="498.18" y="111.15" width="13.16" height="5.55" fill="#ff4a10"/>
<rect x="511.05" y="111.15" width="13.16" height="5.55" fill="#ff1010"/>
<rect x="523.91" y="111.15" width="13.16" height="5.55" fill="#ff3410"/>
<rect x="536.77" y="111.15" width="13.16" height="5.55" fill="#ffea18"/>
<rect x="549.64" y="111.15" width="13.16" height="5.55" fill="#ff2010"/>
<rect x="562.50" y="111.15" width="13.16" height="5.55" fill="#ff2e2e"/>
<rect x="575.36" y="111.15" width="13.16" height="5.55" fill="#ff2010"/>
<rect x="588.23" y="111.15" width="13.16" height="5.55" fill="#ff3410"/>
<rect x="601.09" y="111.15" width="13.16" height="5.55" fill="#ff2e2e"/>
<rect x="613.95" y="111.15" width="13.16" height="5.55" fill="#ff1010"/>
<rect x="626.82" y="111.15" width="13.16" height="5.55" fill="#ffca10"/>
<rect x="639.68" y="111.15" width="13.16" height="5.55" fill="#ffaa10"/>
<rect x="652.55" y="111.15" width="13.16" height="5.55" fill="#ff8a10"/>
<rect x="665.41" y="111.15" width="13.16" height="5.55" fill="#ff2010"/>
<rect x="678.27" y="111.15" width="13.16" height="5.55" fill="#ff6a10"/>
<rect x="691.14" y="111.15" width="13.16" height="5.55" fill="#ff3410"/>
<rect x="421.00" y="116.40" width="13.16" height="5.55" fill="#ff2010"/>
<rect x="433.86" y="116.40" width="13.16" height="5.55" fill="#ff1010"/>
<rect x="446.73" y="116.40" width="26.03" height="5.55" fill="#ff3410"/>
<rect x="472.45" y="116.40" width="26.03" height="5.55" fill="#ff1010"/>
<rect x="498.18" y="116.40" width="13.16" height="5.55" fill="#ffaa10"/>
<rect x="511.05" y="116.40" width="13.16" height="5.55" fill="#ff2e2e"/>
<rect x="523.91" y="116.40" width="13.16" height="5.55" fill="#ff1010"/>
<rect x="536.77" y="116.40" width="13.16" height="5.55" fill="#ff4a10"/>
<rect x="549.64" y="116.40" width="13.16" height="5.55" fill="#ff6a10"/>
<rect x="562.50" y="116.40" width="13.16" height="5.55" fill="#ff2010"/>
<rect x="575.36" y="116.40" width="13.16" height="5.55" fill="#ff2e2e"/>
<rect x="588.23" y="116.40" width="26.03" height="5.55" fill="#ff1010"/>
<rect x="613.95" y="116.40" width="13.16" height="5.55" fill="#ff2e2e"/>
<rect x="626.82" y="116.40" width="13.16" height="5.55" fill="#ff2010"/>
<rect x="639.68" y="116.40" width="13.16" height="5.55" fill="#ff4040"/>
<rect x="652.55" y="116.40" width="26.03" height="5.55" fill="#ff2010"/>
<rect x="678.27" y="116.40" width="13.16" height="5.55" fill="#ff2e2e"/>
<rect x="691.14" y="116.40" width="13.16" height="5.55" fill="#ff2010"/>
<rect x="421.00" y="121.65" width="26.03" height="5.55" fill="#ff1010"/>
<rect x="446.73" y="121.65" width="13.16" height="5.55" fill="#ff2e2e"/>
<rect x="459.59" y="121.65" width="13.16" height="5.55" fill="#ff2010"/>
<rect x="472.45" y="121.65" width="26.03" height="5.55" fill="#ff2e2e"/>
<rect x="498.18" y="121.65" width="13.16" height="5.55" fill="#ff8a10"/>
<rect x="511.05" y="121.65" width="13.16" height="5.55" fill="#ff4040"/>
<rect x="523.91" y="121.65" width="13.16" height="5.55" fill="#ff2010"/>
<rect x="536.77" y="121.65" width="26.03" height="5.55" fill="#ff1010"/>
<rect x="562.50" y="121.65" width="13.16" height="5.55" fill="#ff6a10"/>
<rect x="575.36" y="121.65" width="26.03" height="5.55" fill="#ff1010"/>
<rect x="601.09" y="121.65" width="13.16" height="5.55" fill="#ff2010"/>
<rect x="613.95" y="121.65" width="13.16" height="5.55" fill="#ff1010"/>
<rect x="626.82" y="121.65" width="26.03" height="5.55" fill="#ff4040"/>
<rect x="652.55" y="121.65" width="26.03" height="5.55" fill="#ff2e2e"/>
<rect x="678.27" y="121.65" width="13.16" height="5.55" fill="#ff4040"/>
<rect x="691.14" y="121.65" width="13.16" height="5.55" fill="#ffca10"/>
<rect x="421.00" y="126.90" width="13.16" height="5.55" fill="#ff6a10"/>
<rect x="433.86" y="126.90" width="38.89" height="5.55" fill="#ff2e2e"/>
<rect x="472.45" y="126.90" width="13.16" height="5.55" fill="#ff4040"/>
<rect x="485.32" y="126.90" width="13.16" height="5.55" fill="#ff2e2e"/>
<rect x="498.18" y="126.90" width="13.16" height="5.55" fill="#ff2010"/>
<rect x="511.05" y="126.90" width="26.03" height="5.55" fill="#ff2e2e"/>
<rect x="536.77" y="126.90" width="13.16" height="5.55" fill="#ff1010"/>
<rect x="549.64" y="126.90" width="13.16" height="5.55" fill="#ff4040"/>
<rect x="562.50" y="126.90" width="13.16" height="5.55" fill="#ff2010"/>
<rect x="575.36" y="126.90" width="38.89" height="5.55" fill="#ff2e2e"/>
<rect x="613.95" y="126.90" width="13.16" height="5.55" fill="#ff1010"/>
<rect x="626.82" y="126.90" width="26.03" height="5.55" fill="#ff4040"/>
<rect x="652.55" y="126.90" width="13.16" height="5.55" fill="#ff2e2e"/>
<rect x="665.41" y="126.90" width="13.16" height="5.55" fill="#ff1010"/>
<rect x="678.27" y="126.90" width="13.16" height="5.55" fill="#ff2e2e"/>
<rect x="691.14" y="126.90" width="13.16" height="5.55" fill="#ff4040"/>
<rect x="421.00" y="132.15" width="13.16" height="5.55" fill="#ff1010"/>
<rect x="433.86" y="132.15" width="13.16" height="5.55" fill="#ff2e2e"/>
<rect x="446.73" y="132.15" width="13.16" height="5.55" fill="#ffaa10"/>
<rect x="459.59" y="132.15" width="13.16" height="5.55" fill="#ff8a10"/>
<rect x="472.45" y="132.15" width="13.16" height="5.55" fill="#ff2e2e"/>
<rect x="485.32" y="132.15" width="13.16" height="5.55" fill="#ff2010"/>
<rect x="498.18" y="132.15" width="13.16" height="5.55" fill="#ffea18"/>
<rect x="511.05" y="132.15" width="13.16" height="5.55" fill="#ff4040"/>
<rect x="523.91" y="132.15" width="13.16" height="5.55" fill="#ff2010"/>
<rect x="536.77" y="132.15" width="13.16" height="5.55" fill="#ff2e2e"/>
<rect x="549.64" y="132.15" width="13.16" height="5.55" fill="#ff1010"/>
<rect x="562.50" y="132.15" width="51.75" height="5.55" fill="#ff2e2e"/>
<rect x="613.95" y="132.15" width="26.03" height="5.55" fill="#ff1010"/>
<rect x="639.68" y="132.15" width="13.16" height="5.55" fill="#ff2e2e"/>
<rect x="652.55" y="132.15" width="51.75" height="5.55" fill="#ff1010"/>
<rect x="421.00" y="137.40" width="13.16" height="5.55" fill="#ff1010"/>
<rect x="433.86" y="137.40" width="13.16" height="5.55" fill="#ff2e2e"/>
<rect x="446.73" y="137.40" width="13.16" height="5.55" fill="#ff2020"/>
<rect x="459.59" y="137.40" width="13.16" height="5.55" fill="#ff6a10"/>
<rect x="472.45" y="137.40" width="26.03" height="5.55" fill="#ff2e2e"/>
<rect x="498.18" y="137.40" width="13.16" height="5.55" fill="#ff6a10"/>
<rect x="511.05" y="137.40" width="13.16" height="5.55" fill="#ff4040"/>
<rect x="523.91" y="137.40" width="13.16" height="5.55" fill="#ff2e2e"/>
<rect x="536.77" y="137.40" width="13.16" height="5.55" fill="#ffca10"/>
<rect x="549.64" y="137.40" width="13.16" height="5.55" fill="#ff3410"/>
<rect x="562.50" y="137.40" width="13.16" height="5.55" fill="#ff1010"/>
<rect x="575.36" y="137.40" width="13.16" height="5.55" fill="#ff2e2e"/>
<rect x="588.23" y="137.40" width="64.62" height="5.55" fill="#ff1010"/>
<rect x="652.55" y="137.40" width="13.16" height="5.55" fill="#ff8a10"/>
<rect x="665.41" y="137.40" width="13.16" height="5.55" fill="#ff1010"/>
<rect x="678.27" y="137.40" width="13.16" height="5.55" fill="#ff6a10"/>
<rect x="691.14" y="137.40" width="13.16" height="5.55" fill="#ff4a10"/>
<rect x="421.00" y="142.65" width="13.16" height="5.55" fill="#ffaa10"/>
<rect x="433.86" y="142.65" width="26.03" height="5.55" fill="#ff8a10"/>
<rect x="459.59" y="142.65" width="13.16" height="5.55" fill="#ff4a10"/>
<rect x="472.45" y="142.65" width="13.16" height="5.55" fill="#ff1010"/>
<rect x="485.32" y="142.65" width="13.16" height="5.55" fill="#ff2e2e"/>
<rect x="498.18" y="142.65" width="13.16" height="5.55" fill="#ff2010"/>
<rect x="511.05" y="142.65" width="13.16" height="5.55" fill="#ffaa10"/>
<rect x="523.91" y="142.65" width="13.16" height="5.55" fill="#ff4040"/>
<rect x="536.77" y="142.65" width="13.16" height="5.55" fill="#ff2e2e"/>
<rect x="549.64" y="142.65" width="13.16" height="5.55" fill="#ff5555"/>
<rect x="562.50" y="142.65" width="26.03" height="5.55" fill="#ff1010"/>
<rect x="588.23" y="142.65" width="26.03" height="5.55" fill="#ff2010"/>
<rect x="613.95" y="142.65" width="13.16" height="5.55" fill="#ff4a10"/>
<rect x="626.82" y="142.65" width="13.16" height="5.55" fill="#ff8a10"/>
<rect x="639.68" y="142.65" width="13.16" height="5.55" fill="#ffea18"/>
<rect x="652.55" y="142.65" width="26.03" height="5.55" fill="#ff1010"/>
<rect x="678.27" y="142.65" width="13.16" height="5.55" fill="#d8ff28"/>
<rect x="691.14" y="142.65" width="13.16" height="5.55" fill="#ff8a10"/>
<rect x="421.00" y="147.90" width="13.16" height="5.55" fill="#f4ff18"/>
<rect x="433.86" y="147.90" width="13.16" height="5.55" fill="#ffaa10"/>
<rect x="446.73" y="147.90" width="13.16" height="5.55" fill="#ffca10"/>
<rect x="459.59" y="147.90" width="13.16" height="5.55" fill="#ff6a10"/>
<rect x="472.45" y="147.90" width="13.16" height="5.55" fill="#ff8a10"/>
<rect x="485.32" y="147.90" width="13.16" height="5.55" fill="#ff2010"/>
<rect x="498.18" y="147.90" width="13.16" height="5.55" fill="#ff1010"/>
<rect x="511.05" y="147.90" width="13.16" height="5.55" fill="#ff2e2e"/>
<rect x="523.91" y="147.90" width="13.16" height="5.55" fill="#ff1010"/>
<rect x="536.77" y="147.90" width="13.16" height="5.55" fill="#ff6a10"/>
<rect x="549.64" y="147.90" width="13.16" height="5.55" fill="#ffca10"/>
<rect x="562.50" y="147.90" width="26.03" height="5.55" fill="#ff1010"/>
<rect x="588.23" y="147.90" width="26.03" height="5.55" fill="#ff8a10"/>
<rect x="613.95" y="147.90" width="13.16" height="5.55" fill="#ff6a10"/>
<rect x="626.82" y="147.90" width="13.16" height="5.55" fill="#a8ff58"/>
<rect x="639.68" y="147.90" width="13.16" height="5.55" fill="#ffaa10"/>
<rect x="652.55" y="147.90" width="13.16" height="5.55" fill="#ff6a10"/>
<rect x="665.41" y="147.90" width="13.16" height="5.55" fill="#ffea18"/>
<rect x="678.27" y="147.90" width="13.16" height="5.55" fill="#44f8c0"/>
<rect x="691.14" y="147.90" width="13.16" height="5.55" fill="#000092"/>
<rect x="421.00" y="153.15" width="13.16" height="5.55" fill="#20ecf8"/>
<rect x="433.86" y="153.15" width="38.89" height="5.55" fill="#10acec"/>
<rect x="472.45" y="153.15" width="13.16" height="5.55" fill="#ff6a10"/>
<rect x="485.32" y="153.15" width="13.16" height="5.55" fill="#20ecf8"/>
<rect x="498.18" y="153.15" width="13.16" height="5.55" fill="#44f8c0"/>
<rect x="511.05" y="153.15" width="38.89" height="5.55" fill="#ff4a10"/>
<rect x="549.64" y="153.15" width="13.16" height="5.55" fill="#ffaa10"/>
<rect x="562.50" y="153.15" width="13.16" height="5.55" fill="#ffea18"/>
<rect x="575.36" y="153.15" width="13.16" height="5.55" fill="#d8ff28"/>
<rect x="588.23" y="153.15" width="13.16" height="5.55" fill="#ff6a10"/>
<rect x="601.09" y="153.15" width="13.16" height="5.55" fill="#ffea18"/>
<rect x="613.95" y="153.15" width="13.16" height="5.55" fill="#ff2010"/>
<rect x="626.82" y="153.15" width="13.16" height="5.55" fill="#d8ff28"/>
<rect x="639.68" y="153.15" width="13.16" height="5.55" fill="#a8ff58"/>
<rect x="652.55" y="153.15" width="13.16" height="5.55" fill="#ffaa10"/>
<rect x="665.41" y="153.15" width="13.16" height="5.55" fill="#ff6a10"/>
<rect x="678.27" y="153.15" width="26.03" height="5.55" fill="#44f8c0"/>
<rect x="421.00" y="158.40" width="26.03" height="5.55" fill="#ffea18"/>
<rect x="446.73" y="158.40" width="13.16" height="5.55" fill="#44f8c0"/>
<rect x="459.59" y="158.40" width="13.16" height="5.55" fill="#ffaa10"/>
<rect x="472.45" y="158.40" width="13.16" height="5.55" fill="#ff8a10"/>
<rect x="485.32" y="158.40" width="13.16" height="5.55" fill="#ff6a10"/>
<rect x="498.18" y="158.40" width="13.16" height="5.55" fill="#ffaa10"/>
<rect x="511.05" y="158.40" width="13.16" height="5.55" fill="#ff2010"/>
<rect x="523.91" y="158.40" width="13.16" height="5.55" fill="#ffaa10"/>
<rect x="536.77" y="158.40" width="13.16" height="5.55" fill="#ff4a10"/>
<rect x="549.64" y="158.40" width="13.16" height="5.55" fill="#ff1010"/>
<rect x="562.50" y="158.40" width="13.16" height="5.55" fill="#ff8a10"/>
<rect x="575.36" y="158.40" width="13.16" height="5.55" fill="#ff2010"/>
<rect x="588.23" y="158.40" width="13.16" height="5.55" fill="#ff1010"/>
<rect x="601.09" y="158.40" width="13.16" height="5.55" fill="#ff6a10"/>
<rect x="613.95" y="158.40" width="13.16" height="5.55" fill="#ff4a10"/>
<rect x="626.82" y="158.40" width="13.16" height="5.55" fill="#ff8a10"/>
<rect x="639.68" y="158.40" width="13.16" height="5.55" fill="#ff6a10"/>
<rect x="652.55" y="158.40" width="13.16" height="5.55" fill="#d8ff28"/>
<rect x="665.41" y="158.40" width="13.16" height="5.55" fill="#ff8a10"/>
<rect x="678.27" y="158.40" width="13.16" height="5.55" fill="#70ff90"/>
<rect x="691.14" y="158.40" width="13.16" height="5.55" fill="#ffaa10"/>
<rect x="421.00" y="163.65" width="13.16" height="5.55" fill="#ff8a10"/>
<rect x="433.86" y="163.65" width="13.16" height="5.55" fill="#ffaa10"/>
<rect x="446.73" y="163.65" width="13.16" height="5.55" fill="#ff8a10"/>
<rect x="459.59" y="163.65" width="13.16" height="5.55" fill="#ff3410"/>
<rect x="472.45" y="163.65" width="13.16" height="5.55" fill="#ffca10"/>
<rect x="485.32" y="163.65" width="13.16" height="5.55" fill="#ff2e2e"/>
<rect x="498.18" y="163.65" width="13.16" height="5.55" fill="#ff2010"/>
<rect x="511.05" y="163.65" width="13.16" height="5.55" fill="#ff3410"/>
<rect x="523.91" y="163.65" width="13.16" height="5.55" fill="#ffca10"/>
<rect x="536.77" y="163.65" width="13.16" height="5.55" fill="#ff2010"/>
<rect x="549.64" y="163.65" width="13.16" height="5.55" fill="#ff2e2e"/>
<rect x="562.50" y="163.65" width="13.16" height="5.55" fill="#ff2010"/>
<rect x="575.36" y="163.65" width="26.03" height="5.55" fill="#ff1010"/>
<rect x="601.09" y="163.65" width="13.16" height="5.55" fill="#ff2010"/>
<rect x="613.95" y="163.65" width="13.16" height="5.55" fill="#ff2e2e"/>
<rect x="626.82" y="163.65" width="13.16" height="5.55" fill="#ff4a10"/>
<rect x="639.68" y="163.65" width="13.16" height="5.55" fill="#ff1010"/>
<rect x="652.55" y="163.65" width="13.16" height="5.55" fill="#ff8a10"/>
<rect x="665.41" y="163.65" width="13.16" height="5.55" fill="#d8ff28"/>
<rect x="678.27" y="163.65" width="13.16" height="5.55" fill="#ffaa10"/>
<rect x="691.14" y="163.65" width="13.16" height="5.55" fill="#d8ff28"/>
<rect x="421.00" y="168.90" width="13.16" height="5.55" fill="#ff8a10"/>
<rect x="433.86" y="168.90" width="13.16" height="5.55" fill="#ffaa10"/>
<rect x="446.73" y="168.90" width="13.16" height="5.55" fill="#ff8a10"/>
<rect x="459.59" y="168.90" width="13.16" height="5.55" fill="#ff2e2e"/>
<rect x="472.45" y="168.90" width="13.16" height="5.55" fill="#ff2010"/>
<rect x="485.32" y="168.90" width="13.16" height="5.55" fill="#ff2e2e"/>
<rect x="498.18" y="168.90" width="13.16" height="5.55" fill="#ff4040"/>
<rect x="511.05" y="168.90" width="26.03" height="5.55" fill="#ff2010"/>
<rect x="536.77" y="168.90" width="13.16" height="5.55" fill="#ff4040"/>
<rect x="549.64" y="168.90" width="13.16" height="5.55" fill="#ff2e2e"/>
<rect x="562.50" y="168.90" width="13.16" height="5.55" fill="#ffaa10"/>
<rect x="575.36" y="168.90" width="13.16" height="5.55" fill="#ff8a10"/>
<rect x="588.23" y="168.90" width="26.03" height="5.55" fill="#ff1010"/>
<rect x="613.95" y="168.90" width="13.16" height="5.55" fill="#ff4a10"/>
<rect x="626.82" y="168.90" width="13.16" height="5.55" fill="#ffaa10"/>
<rect x="639.68" y="168.90" width="13.16" height="5.55" fill="#ff1010"/>
<rect x="652.55" y="168.90" width="26.03" height="5.55" fill="#ff4a10"/>
<rect x="678.27" y="168.90" width="13.16" height="5.55" fill="#ffca10"/>
<rect x="691.14" y="168.90" width="13.16" height="5.55" fill="#ff2010"/>
<rect x="421.00" y="174.15" width="13.16" height="5.55" fill="#ff3410"/>
<rect x="433.86" y="174.15" width="13.16" height="5.55" fill="#ff8a10"/>
<rect x="446.73" y="174.15" width="26.03" height="5.55" fill="#ff2e2e"/>
<rect x="472.45" y="174.15" width="38.89" height="5.55" fill="#ff4040"/>
<rect x="511.05" y="174.15" width="13.16" height="5.55" fill="#ff5555"/>
<rect x="523.91" y="174.15" width="13.16" height="5.55" fill="#ff2e2e"/>
<rect x="536.77" y="174.15" width="13.16" height="5.55" fill="#ff2010"/>
<rect x="549.64" y="174.15" width="13.16" height="5.55" fill="#ff4040"/>
<rect x="562.50" y="174.15" width="13.16" height="5.55" fill="#ff4a10"/>
<rect x="575.36" y="174.15" width="13.16" height="5.55" fill="#ff2e2e"/>
<rect x="588.23" y="174.15" width="13.16" height="5.55" fill="#ff4040"/>
<rect x="601.09" y="174.15" width="13.16" height="5.55" fill="#ff2e2e"/>
<rect x="613.95" y="174.15" width="13.16" height="5.55" fill="#ff1010"/>
<rect x="626.82" y="174.15" width="13.16" height="5.55" fill="#ff4040"/>
<rect x="639.68" y="174.15" width="26.03" height="5.55" fill="#ff1010"/>
<rect x="665.41" y="174.15" width="13.16" height="5.55" fill="#ff2010"/>
<rect x="678.27" y="174.15" width="13.16" height="5.55" fill="#ffaa10"/>
<rect x="691.14" y="174.15" width="13.16" height="5.55" fill="#ff2010"/>
<rect x="421.00" y="179.40" width="13.16" height="5.55" fill="#44f8c0"/>
<rect x="433.86" y="179.40" width="13.16" height="5.55" fill="#ff2010"/>
<rect x="446.73" y="179.40" width="26.03" height="5.55" fill="#ff2e2e"/>
<rect x="472.45" y="179.40" width="26.03" height="5.55" fill="#ff2010"/>
<rect x="498.18" y="179.40" width="13.16" height="5.55" fill="#ff2e2e"/>
<rect x="511.05" y="179.40" width="13.16" height="5.55" fill="#ff1010"/>
<rect x="523.91" y="179.40" width="13.16" height="5.55" fill="#ff2010"/>
<rect x="536.77" y="179.40" width="13.16" height="5.55" fill="#ff2e2e"/>
<rect x="549.64" y="179.40" width="13.16" height="5.55" fill="#ff4040"/>
<rect x="562.50" y="179.40" width="13.16" height="5.55" fill="#ff6a10"/>
<rect x="575.36" y="179.40" width="26.03" height="5.55" fill="#ff2e2e"/>
<rect x="601.09" y="179.40" width="13.16" height="5.55" fill="#ff2010"/>
<rect x="613.95" y="179.40" width="13.16" height="5.55" fill="#ff2e2e"/>
<rect x="626.82" y="179.40" width="13.16" height="5.55" fill="#ff2010"/>
<rect x="639.68" y="179.40" width="26.03" height="5.55" fill="#ff2e2e"/>
<rect x="665.41" y="179.40" width="38.89" height="5.55" fill="#ff4040"/>
<rect x="421.00" y="184.65" width="13.16" height="5.55" fill="#ff4a10"/>
<rect x="433.86" y="184.65" width="13.16" height="5.55" fill="#ffaa10"/>
<rect x="446.73" y="184.65" width="26.03" height="5.55" fill="#ff2e2e"/>
<rect x="472.45" y="184.65" width="13.16" height="5.55" fill="#ff2010"/>
<rect x="485.32" y="184.65" width="26.03" height="5.55" fill="#ff2e2e"/>
<rect x="511.05" y="184.65" width="13.16" height="5.55" fill="#ff4040"/>
<rect x="523.91" y="184.65" width="13.16" height="5.55" fill="#ff2010"/>
<rect x="536.77" y="184.65" width="13.16" height="5.55" fill="#ff8a10"/>
<rect x="549.64" y="184.65" width="13.16" height="5.55" fill="#ff4040"/>
<rect x="562.50" y="184.65" width="13.16" height="5.55" fill="#ff2010"/>
<rect x="575.36" y="184.65" width="13.16" height="5.55" fill="#ff4040"/>
<rect x="588.23" y="184.65" width="38.89" height="5.55" fill="#ff2e2e"/>
<rect x="626.82" y="184.65" width="13.16" height="5.55" fill="#ff4040"/>
<rect x="639.68" y="184.65" width="13.16" height="5.55" fill="#ff2e2e"/>
<rect x="652.55" y="184.65" width="13.16" height="5.55" fill="#ff3410"/>
<rect x="665.41" y="184.65" width="26.03" height="5.55" fill="#ff2e2e"/>
<rect x="691.14" y="184.65" width="13.16" height="5.55" fill="#ff4a10"/>
<rect x="421.00" y="189.90" width="13.16" height="5.55" fill="#ff3410"/>
<rect x="433.86" y="189.90" width="13.16" height="5.55" fill="#ff4a10"/>
<rect x="446.73" y="189.90" width="38.89" height="5.55" fill="#ff1010"/>
<rect x="485.32" y="189.90" width="13.16" height="5.55" fill="#ff4040"/>
<rect x="498.18" y="189.90" width="38.89" height="5.55" fill="#ff2010"/>
<rect x="536.77" y="189.90" width="13.16" height="5.55" fill="#ff8a10"/>
<rect x="549.64" y="189.90" width="13.16" height="5.55" fill="#ffca10"/>
<rect x="562.50" y="189.90" width="13.16" height="5.55" fill="#ff4a10"/>
<rect x="575.36" y="189.90" width="13.16" height="5.55" fill="#ff3410"/>
<rect x="588.23" y="189.90" width="13.16" height="5.55" fill="#ff2e2e"/>
<rect x="601.09" y="189.90" width="13.16" height="5.55" fill="#ff2010"/>
<rect x="613.95" y="189.90" width="13.16" height="5.55" fill="#ff1010"/>
<rect x="626.82" y="189.90" width="13.16" height="5.55" fill="#ff4040"/>
<rect x="639.68" y="189.90" width="13.16" height="5.55" fill="#ff1010"/>
<rect x="652.55" y="189.90" width="13.16" height="5.55" fill="#ffaa10"/>
<rect x="665.41" y="189.90" width="13.16" height="5.55" fill="#ff2010"/>
<rect x="678.27" y="189.90" width="13.16" height="5.55" fill="#ff3410"/>
<rect x="691.14" y="189.90" width="13.16" height="5.55" fill="#ff2e2e"/>
<rect x="421.00" y="195.15" width="13.16" height="5.55" fill="#ffca10"/>
<rect x="433.86" y="195.15" width="13.16" height="5.55" fill="#ff4a10"/>
<rect x="446.73" y="195.15" width="13.16" height="5.55" fill="#ffaa10"/>
<rect x="459.59" y="195.15" width="26.03" height="5.55" fill="#ff8a10"/>
<rect x="485.32" y="195.15" width="13.16" height="5.55" fill="#ff3410"/>
<rect x="498.18" y="195.15" width="38.89" height="5.55" fill="#ff2010"/>
<rect x="536.77" y="195.15" width="13.16" height="5.55" fill="#ff6a10"/>
<rect x="549.64" y="195.15" width="13.16" height="5.55" fill="#ff4a10"/>
<rect x="562.50" y="195.15" width="13.16" height="5.55" fill="#ffaa10"/>
<rect x="575.36" y="195.15" width="13.16" height="5.55" fill="#ff8a10"/>
<rect x="588.23" y="195.15" width="13.16" height="5.55" fill="#ffea18"/>
<rect x="601.09" y="195.15" width="13.16" height="5.55" fill="#ff2010"/>
<rect x="613.95" y="195.15" width="13.16" height="5.55" fill="#ff2e2e"/>
<rect x="626.82" y="195.15" width="13.16" height="5.55" fill="#ff2010"/>
<rect x="639.68" y="195.15" width="13.16" height="5.55" fill="#ff1010"/>
<rect x="652.55" y="195.15" width="13.16" height="5.55" fill="#ffca10"/>
<rect x="665.41" y="195.15" width="13.16" height="5.55" fill="#ffea18"/>
<rect x="678.27" y="195.15" width="13.16" height="5.55" fill="#ff4a10"/>
<rect x="691.14" y="195.15" width="13.16" height="5.55" fill="#ffca10"/>
<rect x="421.00" y="200.40" width="13.16" height="5.55" fill="#d8ff28"/>
<rect x="433.86" y="200.40" width="13.16" height="5.55" fill="#a8ff58"/>
<rect x="446.73" y="200.40" width="13.16" height="5.55" fill="#d8ff28"/>
<rect x="459.59" y="200.40" width="13.16" height="5.55" fill="#ff2010"/>
<rect x="472.45" y="200.40" width="13.16" height="5.55" fill="#d8ff28"/>
<rect x="485.32" y="200.40" width="13.16" height="5.55" fill="#ff2010"/>
<rect x="498.18" y="200.40" width="13.16" height="5.55" fill="#d8ff28"/>
<rect x="511.05" y="200.40" width="13.16" height="5.55" fill="#ffaa10"/>
<rect x="523.91" y="200.40" width="13.16" height="5.55" fill="#ff2e2e"/>
<rect x="536.77" y="200.40" width="13.16" height="5.55" fill="#ff4040"/>
<rect x="549.64" y="200.40" width="13.16" height="5.55" fill="#ff2010"/>
<rect x="562.50" y="200.40" width="13.16" height="5.55" fill="#ff8a10"/>
<rect x="575.36" y="200.40" width="13.16" height="5.55" fill="#ff2e2e"/>
<rect x="588.23" y="200.40" width="13.16" height="5.55" fill="#ff8a10"/>
<rect x="601.09" y="200.40" width="13.16" height="5.55" fill="#ff2e2e"/>
<rect x="613.95" y="200.40" width="26.03" height="5.55" fill="#ffaa10"/>
<rect x="639.68" y="200.40" width="13.16" height="5.55" fill="#ff1010"/>
<rect x="652.55" y="200.40" width="13.16" height="5.55" fill="#ffaa10"/>
<rect x="665.41" y="200.40" width="13.16" height="5.55" fill="#f4ff18"/>
<rect x="678.27" y="200.40" width="13.16" height="5.55" fill="#a8ff58"/>
<rect x="691.14" y="200.40" width="13.16" height="5.55" fill="#ffca10"/>
<rect x="421.00" y="205.65" width="38.89" height="5.55" fill="#10acec"/>
<rect x="459.59" y="205.65" width="13.16" height="5.55" fill="#ff4040"/>
<rect x="472.45" y="205.65" width="13.16" height="5.55" fill="#ffea18"/>
<rect x="485.32" y="205.65" width="64.62" height="5.55" fill="#ff4040"/>
<rect x="549.64" y="205.65" width="13.16" height="5.55" fill="#ff1010"/>
<rect x="562.50" y="205.65" width="13.16" height="5.55" fill="#ff4a10"/>
<rect x="575.36" y="205.65" width="13.16" height="5.55" fill="#ff2010"/>
<rect x="588.23" y="205.65" width="13.16" height="5.55" fill="#ff4a10"/>
<rect x="601.09" y="205.65" width="38.89" height="5.55" fill="#ff2010"/>
<rect x="639.68" y="205.65" width="13.16" height="5.55" fill="#ff4a10"/>
<rect x="652.55" y="205.65" width="13.16" height="5.55" fill="#ff3410"/>
<rect x="665.41" y="205.65" width="13.16" height="5.55" fill="#d8ff28"/>
<rect x="678.27" y="205.65" width="26.03" height="5.55" fill="#ffca10"/>
<rect x="36.00" y="281.40" width="54.39" height="5.58" fill="#10acec"/>
<rect x="90.09" y="281.40" width="27.35" height="5.58" fill="#d8ff28"/>
<rect x="117.14" y="281.40" width="27.35" height="5.58" fill="#f4ff18"/>
<rect x="144.18" y="281.40" width="27.35" height="5.58" fill="#ff8a10"/>
<rect x="171.23" y="281.40" width="27.35" height="5.58" fill="#ff4a10"/>
<rect x="198.27" y="281.40" width="27.35" height="5.58" fill="#ff2010"/>
<rect x="225.32" y="281.40" width="106.48" height="5.58" fill="#ff2e2e"/>
<rect x="36.00" y="286.68" width="27.35" height="5.58" fill="#0838cc"/>
<rect x="63.05" y="286.68" width="27.35" height="5.58" fill="#a8ff58"/>
<rect x="90.09" y="286.68" width="27.35" height="5.58" fill="#1068e0"/>
<rect x="117.14" y="286.68" width="27.35" height="5.58" fill="#f4ff18"/>
<rect x="144.18" y="286.68" width="27.35" height="5.58" fill="#ffca10"/>
<rect x="171.23" y="286.68" width="27.35" height="5.58" fill="#ff8a10"/>
<rect x="198.27" y="286.68" width="108.48" height="5.58" fill="#ff2e2e"/>
<rect x="306.45" y="286.68" width="25.35" height="5.58" fill="#ff4a10"/>
<rect x="36.00" y="291.96" width="27.35" height="5.58" fill="#000092"/>
<rect x="63.05" y="291.96" width="27.35" height="5.58" fill="#10acec"/>
<rect x="90.09" y="291.96" width="27.35" height="5.58" fill="#1068e0"/>
<rect x="117.14" y="291.96" width="27.35" height="5.58" fill="#ffea18"/>
<rect x="144.18" y="291.96" width="27.35" height="5.58" fill="#ff4a10"/>
<rect x="171.23" y="291.96" width="27.35" height="5.58" fill="#ff1010"/>
<rect x="198.27" y="291.96" width="27.35" height="5.58" fill="#ff2e2e"/>
<rect x="225.32" y="291.96" width="106.48" height="5.58" fill="#ff4040"/>
<rect x="36.00" y="297.24" width="54.39" height="5.58" fill="#000092"/>
<rect x="90.09" y="297.24" width="27.35" height="5.58" fill="#ffca10"/>
<rect x="117.14" y="297.24" width="27.35" height="5.58" fill="#d8ff28"/>
<rect x="144.18" y="297.24" width="27.35" height="5.58" fill="#ffca10"/>
<rect x="171.23" y="297.24" width="27.35" height="5.58" fill="#ff1010"/>
<rect x="198.27" y="297.24" width="27.35" height="5.58" fill="#ff2e2e"/>
<rect x="225.32" y="297.24" width="54.39" height="5.58" fill="#ff4040"/>
<rect x="279.41" y="297.24" width="27.35" height="5.58" fill="#ff2e2e"/>
<rect x="306.45" y="297.24" width="25.35" height="5.58" fill="#ff4040"/>
<rect x="36.00" y="302.52" width="27.35" height="5.58" fill="#000092"/>
<rect x="63.05" y="302.52" width="27.35" height="5.58" fill="#0838cc"/>
<rect x="90.09" y="302.52" width="27.35" height="5.58" fill="#d8ff28"/>
<rect x="117.14" y="302.52" width="27.35" height="5.58" fill="#ffea18"/>
<rect x="144.18" y="302.52" width="27.35" height="5.58" fill="#ff1010"/>
<rect x="171.23" y="302.52" width="81.44" height="5.58" fill="#ff2010"/>
<rect x="252.36" y="302.52" width="54.39" height="5.58" fill="#ff2e2e"/>
<rect x="306.45" y="302.52" width="25.35" height="5.58" fill="#ff4040"/>
<rect x="36.00" y="307.80" width="54.39" height="5.58" fill="#000092"/>
<rect x="90.09" y="307.80" width="27.35" height="5.58" fill="#1068e0"/>
<rect x="117.14" y="307.80" width="27.35" height="5.58" fill="#a8ff58"/>
<rect x="144.18" y="307.80" width="27.35" height="5.58" fill="#ff1010"/>
<rect x="171.23" y="307.80" width="81.44" height="5.58" fill="#ff2010"/>
<rect x="252.36" y="307.80" width="54.39" height="5.58" fill="#ff2e2e"/>
<rect x="306.45" y="307.80" width="25.35" height="5.58" fill="#ff4040"/>
<rect x="36.00" y="313.08" width="27.35" height="5.58" fill="#000092"/>
<rect x="63.05" y="313.08" width="27.35" height="5.58" fill="#d8ff28"/>
<rect x="90.09" y="313.08" width="27.35" height="5.58" fill="#1068e0"/>
<rect x="117.14" y="313.08" width="27.35" height="5.58" fill="#d8ff28"/>
<rect x="144.18" y="313.08" width="27.35" height="5.58" fill="#ffaa10"/>
<rect x="171.23" y="313.08" width="27.35" height="5.58" fill="#ff6a10"/>
<rect x="198.27" y="313.08" width="27.35" height="5.58" fill="#ff2e2e"/>
<rect x="225.32" y="313.08" width="27.35" height="5.58" fill="#ff3410"/>
<rect x="252.36" y="313.08" width="27.35" height="5.58" fill="#ff2e2e"/>
<rect x="279.41" y="313.08" width="52.39" height="5.58" fill="#ff4040"/>
<rect x="36.00" y="318.36" width="54.39" height="5.58" fill="#000092"/>
<rect x="90.09" y="318.36" width="27.35" height="5.58" fill="#20ecf8"/>
<rect x="117.14" y="318.36" width="27.35" height="5.58" fill="#f4ff18"/>
<rect x="144.18" y="318.36" width="27.35" height="5.58" fill="#ff8a10"/>
<rect x="171.23" y="318.36" width="27.35" height="5.58" fill="#ff6a10"/>
<rect x="198.27" y="318.36" width="27.35" height="5.58" fill="#ff2010"/>
<rect x="225.32" y="318.36" width="27.35" height="5.58" fill="#ff1010"/>
<rect x="252.36" y="318.36" width="54.39" height="5.58" fill="#ff2e2e"/>
<rect x="306.45" y="318.36" width="25.35" height="5.58" fill="#ff4040"/>
<rect x="36.00" y="323.64" width="54.39" height="5.58" fill="#000092"/>
<rect x="90.09" y="323.64" width="27.35" height="5.58" fill="#70ff90"/>
<rect x="117.14" y="323.64" width="27.35" height="5.58" fill="#d8ff28"/>
<rect x="144.18" y="323.64" width="54.39" height="5.58" fill="#ff6a10"/>
<rect x="198.27" y="323.64" width="27.35" height="5.58" fill="#ffaa10"/>
<rect x="225.32" y="323.64" width="27.35" height="5.58" fill="#ff1010"/>
<rect x="252.36" y="323.64" width="54.39" height="5.58" fill="#ff2e2e"/>
<rect x="306.45" y="323.64" width="25.35" height="5.58" fill="#ff2020"/>
<rect x="36.00" y="328.92" width="81.44" height="5.58" fill="#000092"/>
<rect x="117.14" y="328.92" width="27.35" height="5.58" fill="#70ff90"/>
<rect x="144.18" y="328.92" width="27.35" height="5.58" fill="#a8ff58"/>
<rect x="171.23" y="328.92" width="27.35" height="5.58" fill="#ffaa10"/>
<rect x="198.27" y="328.92" width="27.35" height="5.58" fill="#ff8a10"/>
<rect x="225.32" y="328.92" width="27.35" height="5.58" fill="#ff1010"/>
<rect x="252.36" y="328.92" width="27.35" height="5.58" fill="#ff2e2e"/>
<rect x="279.41" y="328.92" width="52.39" height="5.58" fill="#ffaa10"/>
<rect x="36.00" y="334.20" width="54.39" height="5.58" fill="#000092"/>
<rect x="90.09" y="334.20" width="54.39" height="5.58" fill="#10acec"/>
<rect x="144.18" y="334.20" width="27.35" height="5.58" fill="#a8ff58"/>
<rect x="171.23" y="334.20" width="27.35" height="5.58" fill="#ff8a10"/>
<rect x="198.27" y="334.20" width="27.35" height="5.58" fill="#ff4a10"/>
<rect x="225.32" y="334.20" width="27.35" height="5.58" fill="#ff2010"/>
<rect x="252.36" y="334.20" width="54.39" height="5.58" fill="#ff2e2e"/>
<rect x="306.45" y="334.20" width="25.35" height="5.58" fill="#ff2020"/>
<rect x="36.00" y="339.48" width="27.35" height="5.58" fill="#0838cc"/>
<rect x="63.05" y="339.48" width="27.35" height="5.58" fill="#000092"/>
<rect x="90.09" y="339.48" width="27.35" height="5.58" fill="#a8ff58"/>
<rect x="117.14" y="339.48" width="27.35" height="5.58" fill="#20ecf8"/>
<rect x="144.18" y="339.48" width="27.35" height="5.58" fill="#ff8a10"/>
<rect x="171.23" y="339.48" width="27.35" height="5.58" fill="#ff2010"/>
<rect x="198.27" y="339.48" width="27.35" height="5.58" fill="#ff8a10"/>
<rect x="225.32" y="339.48" width="27.35" height="5.58" fill="#ff1010"/>
<rect x="252.36" y="339.48" width="27.35" height="5.58" fill="#ff2e2e"/>
<rect x="279.41" y="339.48" width="27.35" height="5.58" fill="#ff4040"/>
<rect x="306.45" y="339.48" width="25.35" height="5.58" fill="#ff5555"/>
<rect x="36.00" y="344.76" width="54.39" height="5.58" fill="#000092"/>
<rect x="90.09" y="344.76" width="27.35" height="5.58" fill="#a8ff58"/>
<rect x="117.14" y="344.76" width="27.35" height="5.58" fill="#70ff90"/>
<rect x="144.18" y="344.76" width="27.35" height="5.58" fill="#ffca10"/>
<rect x="171.23" y="344.76" width="27.35" height="5.58" fill="#ff2010"/>
<rect x="198.27" y="344.76" width="27.35" height="5.58" fill="#ff2e2e"/>
<rect x="225.32" y="344.76" width="27.35" height="5.58" fill="#ff6a10"/>
<rect x="252.36" y="344.76" width="27.35" height="5.58" fill="#ff2e2e"/>
<rect x="279.41" y="344.76" width="52.39" height="5.58" fill="#ff5555"/>
<rect x="36.00" y="350.04" width="54.39" height="5.58" fill="#000092"/>
<rect x="90.09" y="350.04" width="27.35" height="5.58" fill="#0010b8"/>
<rect x="117.14" y="350.04" width="27.35" height="5.58" fill="#10acec"/>
<rect x="144.18" y="350.04" width="27.35" height="5.58" fill="#ff2010"/>
<rect x="171.23" y="350.04" width="27.35" height="5.58" fill="#ff1010"/>
<rect x="198.27" y="350.04" width="27.35" height="5.58" fill="#ff2e2e"/>
<rect x="225.32" y="350.04" width="27.35" height="5.58" fill="#ff2010"/>
<rect x="252.36" y="350.04" width="27.35" height="5.58" fill="#ff2e2e"/>
<rect x="279.41" y="350.04" width="52.39" height="5.58" fill="#ff4040"/>
<rect x="36.00" y="355.32" width="54.39" height="5.58" fill="#000092"/>
<rect x="90.09" y="355.32" width="27.35" height="5.58" fill="#a8ff58"/>
<rect x="117.14" y="355.32" width="27.35" height="5.58" fill="#ff2010"/>
<rect x="144.18" y="355.32" width="27.35" height="5.58" fill="#ff8a10"/>
<rect x="171.23" y="355.32" width="27.35" height="5.58" fill="#ff4a10"/>
<rect x="198.27" y="355.32" width="27.35" height="5.58" fill="#ff2e2e"/>
<rect x="225.32" y="355.32" width="106.48" height="5.58" fill="#ff4040"/>
<rect x="36.00" y="360.60" width="27.35" height="5.58" fill="#000092"/>
<rect x="63.05" y="360.60" width="27.35" height="5.58" fill="#0010b8"/>
<rect x="90.09" y="360.60" width="54.39" height="5.58" fill="#44f8c0"/>
<rect x="144.18" y="360.60" width="54.39" height="5.58" fill="#ffaa10"/>
<rect x="198.27" y="360.60" width="133.53" height="5.58" fill="#ff4040"/>
<rect x="36.00" y="365.88" width="27.35" height="5.58" fill="#0010b8"/>
<rect x="63.05" y="365.88" width="27.35" height="5.58" fill="#20ecf8"/>
<rect x="90.09" y="365.88" width="27.35" height="5.58" fill="#10acec"/>
<rect x="117.14" y="365.88" width="27.35" height="5.58" fill="#ffaa10"/>
<rect x="144.18" y="365.88" width="27.35" height="5.58" fill="#d8ff28"/>
<rect x="171.23" y="365.88" width="27.35" height="5.58" fill="#ff8a10"/>
<rect x="198.27" y="365.88" width="54.39" height="5.58" fill="#ff2e2e"/>
<rect x="252.36" y="365.88" width="54.39" height="5.58" fill="#ff4040"/>
<rect x="306.45" y="365.88" width="25.35" height="5.58" fill="#ff2020"/>
<rect x="36.00" y="371.16" width="27.35" height="5.58" fill="#0010b8"/>
<rect x="63.05" y="371.16" width="27.35" height="5.58" fill="#0838cc"/>
<rect x="90.09" y="371.16" width="27.35" height="5.58" fill="#10acec"/>
<rect x="117.14" y="371.16" width="27.35" height="5.58" fill="#20ecf8"/>
<rect x="144.18" y="371.16" width="27.35" height="5.58" fill="#d8ff28"/>
<rect x="171.23" y="371.16" width="27.35" height="5.58" fill="#ff8a10"/>
<rect x="198.27" y="371.16" width="27.35" height="5.58" fill="#ff2e2e"/>
<rect x="225.32" y="371.16" width="27.35" height="5.58" fill="#ff2010"/>
<rect x="252.36" y="371.16" width="27.35" height="5.58" fill="#ff2e2e"/>
<rect x="279.41" y="371.16" width="27.35" height="5.58" fill="#ff2010"/>
<rect x="306.45" y="371.16" width="25.35" height="5.58" fill="#ff2e2e"/>
<rect x="36.00" y="376.44" width="27.35" height="5.58" fill="#0010b8"/>
<rect x="63.05" y="376.44" width="27.35" height="5.58" fill="#1068e0"/>
<rect x="90.09" y="376.44" width="27.35" height="5.58" fill="#a8ff58"/>
<rect x="117.14" y="376.44" width="27.35" height="5.58" fill="#ffca10"/>
<rect x="144.18" y="376.44" width="27.35" height="5.58" fill="#ff2010"/>
<rect x="171.23" y="376.44" width="54.39" height="5.58" fill="#ff1010"/>
<rect x="225.32" y="376.44" width="27.35" height="5.58" fill="#ff2010"/>
<rect x="252.36" y="376.44" width="27.35" height="5.58" fill="#ff1010"/>
<rect x="279.41" y="376.44" width="27.35" height="5.58" fill="#ff2e2e"/>
<rect x="306.45" y="376.44" width="25.35" height="5.58" fill="#ff1010"/>
<rect x="36.00" y="381.72" width="27.35" height="5.58" fill="#20ecf8"/>
<rect x="63.05" y="381.72" width="27.35" height="5.58" fill="#d8ff28"/>
<rect x="90.09" y="381.72" width="27.35" height="5.58" fill="#ff2010"/>
<rect x="117.14" y="381.72" width="54.39" height="5.58" fill="#ff4040"/>
<rect x="171.23" y="381.72" width="27.35" height="5.58" fill="#ff2010"/>
<rect x="198.27" y="381.72" width="81.44" height="5.58" fill="#ff2e2e"/>
<rect x="279.41" y="381.72" width="27.35" height="5.58" fill="#ff4040"/>
<rect x="306.45" y="381.72" width="25.35" height="5.58" fill="#ff2010"/>
<rect x="36.00" y="387.00" width="27.35" height="5.58" fill="#0838cc"/>
<rect x="63.05" y="387.00" width="27.35" height="5.58" fill="#20ecf8"/>
<rect x="90.09" y="387.00" width="27.35" height="5.58" fill="#a8ff58"/>
<rect x="117.14" y="387.00" width="27.35" height="5.58" fill="#ffea18"/>
<rect x="144.18" y="387.00" width="27.35" height="5.58" fill="#ffaa10"/>
<rect x="171.23" y="387.00" width="27.35" height="5.58" fill="#ff2010"/>
<rect x="198.27" y="387.00" width="54.39" height="5.58" fill="#ff2e2e"/>
<rect x="252.36" y="387.00" width="27.35" height="5.58" fill="#ff2010"/>
<rect x="279.41" y="387.00" width="27.35" height="5.58" fill="#ff4040"/>
<rect x="306.45" y="387.00" width="25.35" height="5.58" fill="#ff2e2e"/>
<rect x="36.00" y="392.28" width="27.35" height="5.58" fill="#1068e0"/>
<rect x="63.05" y="392.28" width="27.35" height="5.58" fill="#0010b8"/>
<rect x="90.09" y="392.28" width="27.35" height="5.58" fill="#44f8c0"/>
<rect x="117.14" y="392.28" width="27.35" height="5.58" fill="#d8ff28"/>
<rect x="144.18" y="392.28" width="27.35" height="5.58" fill="#f4ff18"/>
<rect x="171.23" y="392.28" width="27.35" height="5.58" fill="#ffaa10"/>
<rect x="198.27" y="392.28" width="27.35" height="5.58" fill="#ff2e2e"/>
<rect x="225.32" y="392.28" width="27.35" height="5.58" fill="#ff4040"/>
<rect x="252.36" y="392.28" width="27.35" height="5.58" fill="#ff2e2e"/>
<rect x="279.41" y="392.28" width="52.39" height="5.58" fill="#ff2010"/>
<rect x="36.00" y="397.56" width="27.35" height="5.58" fill="#000092"/>
<rect x="63.05" y="397.56" width="27.35" height="5.58" fill="#0010b8"/>
<rect x="90.09" y="397.56" width="27.35" height="5.58" fill="#44f8c0"/>
<rect x="117.14" y="397.56" width="27.35" height="5.58" fill="#d8ff28"/>
<rect x="144.18" y="397.56" width="27.35" height="5.58" fill="#ffaa10"/>
<rect x="171.23" y="397.56" width="27.35" height="5.58" fill="#ff8a10"/>
<rect x="198.27" y="397.56" width="27.35" height="5.58" fill="#ff2e2e"/>
<rect x="225.32" y="397.56" width="27.35" height="5.58" fill="#ff4040"/>
<rect x="252.36" y="397.56" width="27.35" height="5.58" fill="#ff2e2e"/>
<rect x="279.41" y="397.56" width="52.39" height="5.58" fill="#ff4040"/>
<rect x="36.00" y="402.84" width="54.39" height="5.58" fill="#000092"/>
<rect x="90.09" y="402.84" width="27.35" height="5.58" fill="#0838cc"/>
<rect x="117.14" y="402.84" width="27.35" height="5.58" fill="#ffca10"/>
<rect x="144.18" y="402.84" width="27.35" height="5.58" fill="#ff8a10"/>
<rect x="171.23" y="402.84" width="27.35" height="5.58" fill="#ff2010"/>
<rect x="198.27" y="402.84" width="54.39" height="5.58" fill="#ff2e2e"/>
<rect x="252.36" y="402.84" width="27.35" height="5.58" fill="#ff2010"/>
<rect x="279.41" y="402.84" width="27.35" height="5.58" fill="#ff4040"/>
<rect x="306.45" y="402.84" width="25.35" height="5.58" fill="#ff5555"/>
<rect x="36.00" y="408.12" width="54.39" height="5.58" fill="#000092"/>
<rect x="90.09" y="408.12" width="27.35" height="5.58" fill="#70ff90"/>
<rect x="117.14" y="408.12" width="27.35" height="5.58" fill="#ffea18"/>
<rect x="144.18" y="408.12" width="27.35" height="5.58" fill="#ff6a10"/>
<rect x="171.23" y="408.12" width="54.39" height="5.58" fill="#ff2010"/>
<rect x="225.32" y="408.12" width="106.48" height="5.58" fill="#ff4040"/>
<rect x="36.00" y="413.40" width="54.39" height="5.58" fill="#000092"/>
<rect x="90.09" y="413.40" width="27.35" height="5.58" fill="#a8ff58"/>
<rect x="117.14" y="413.40" width="27.35" height="5.58" fill="#ffca10"/>
<rect x="144.18" y="413.40" width="108.48" height="5.58" fill="#ff2010"/>
<rect x="252.36" y="413.40" width="27.35" height="5.58" fill="#ff2e2e"/>
<rect x="279.41" y="413.40" width="52.39" height="5.58" fill="#ff4040"/>
<rect x="36.00" y="418.68" width="27.35" height="5.58" fill="#000092"/>
<rect x="63.05" y="418.68" width="27.35" height="5.58" fill="#10acec"/>
<rect x="90.09" y="418.68" width="27.35" height="5.58" fill="#000092"/>
<rect x="117.14" y="418.68" width="54.39" height="5.58" fill="#ffaa10"/>
<rect x="171.23" y="418.68" width="81.44" height="5.58" fill="#ff2010"/>
<rect x="252.36" y="418.68" width="79.44" height="5.58" fill="#ff2e2e"/>
<rect x="36.00" y="423.96" width="54.39" height="5.58" fill="#000092"/>
<rect x="90.09" y="423.96" width="27.35" height="5.58" fill="#0838cc"/>
<rect x="117.14" y="423.96" width="27.35" height="5.58" fill="#0010b8"/>
<rect x="144.18" y="423.96" width="27.35" height="5.58" fill="#d8ff28"/>
<rect x="171.23" y="423.96" width="27.35" height="5.58" fill="#ff6a10"/>
<rect x="198.27" y="423.96" width="27.35" height="5.58" fill="#ff8a10"/>
<rect x="225.32" y="423.96" width="27.35" height="5.58" fill="#ff2010"/>
<rect x="252.36" y="423.96" width="54.39" height="5.58" fill="#ff2e2e"/>
<rect x="306.45" y="423.96" width="25.35" height="5.58" fill="#ff5555"/>
<rect x="36.00" y="429.24" width="54.39" height="5.58" fill="#000092"/>
<rect x="90.09" y="429.24" width="27.35" height="5.58" fill="#70ff90"/>
<rect x="117.14" y="429.24" width="27.35" height="5.58" fill="#20ecf8"/>
<rect x="144.18" y="429.24" width="27.35" height="5.58" fill="#a8ff58"/>
<rect x="171.23" y="429.24" width="27.35" height="5.58" fill="#ffca10"/>
<rect x="198.27" y="429.24" width="27.35" height="5.58" fill="#ff3410"/>
<rect x="225.32" y="429.24" width="27.35" height="5.58" fill="#ff4040"/>
<rect x="252.36" y="429.24" width="54.39" height="5.58" fill="#ff2e2e"/>
<rect x="306.45" y="429.24" width="25.35" height="5.58" fill="#ff2020"/>
<rect x="36.00" y="434.52" width="54.39" height="5.58" fill="#000092"/>
<rect x="90.09" y="434.52" width="27.35" height="5.58" fill="#10acec"/>
<rect x="117.14" y="434.52" width="27.35" height="5.58" fill="#0010b8"/>
<rect x="144.18" y="434.52" width="27.35" height="5.58" fill="#d8ff28"/>
<rect x="171.23" y="434.52" width="27.35" height="5.58" fill="#ffca10"/>
<rect x="198.27" y="434.52" width="27.35" height="5.58" fill="#ff8a10"/>
<rect x="225.32" y="434.52" width="27.35" height="5.58" fill="#ff1010"/>
<rect x="252.36" y="434.52" width="27.35" height="5.58" fill="#ff2e2e"/>
<rect x="279.41" y="434.52" width="27.35" height="5.58" fill="#ffaa10"/>
<rect x="306.45" y="434.52" width="25.35" height="5.58" fill="#ff3410"/>
<rect x="36.00" y="439.80" width="54.39" height="5.58" fill="#000092"/>
<rect x="90.09" y="439.80" width="27.35" height="5.58" fill="#a8ff58"/>
<rect x="117.14" y="439.80" width="27.35" height="5.58" fill="#f4ff18"/>
<rect x="144.18" y="439.80" width="27.35" height="5.58" fill="#ffea18"/>
<rect x="171.23" y="439.80" width="27.35" height="5.58" fill="#ffaa10"/>
<rect x="198.27" y="439.80" width="27.35" height="5.58" fill="#ff6a10"/>
<rect x="225.32" y="439.80" width="27.35" height="5.58" fill="#ff8a10"/>
<rect x="252.36" y="439.80" width="79.44" height="5.58" fill="#ff2e2e"/>
<rect x="36.00" y="445.08" width="27.35" height="5.58" fill="#a8ff58"/>
<rect x="63.05" y="445.08" width="27.35" height="5.58" fill="#000092"/>
<rect x="90.09" y="445.08" width="27.35" height="5.58" fill="#10acec"/>
<rect x="117.14" y="445.08" width="27.35" height="5.58" fill="#20ecf8"/>
<rect x="144.18" y="445.08" width="27.35" height="5.58" fill="#ff8a10"/>
<rect x="171.23" y="445.08" width="27.35" height="5.58" fill="#ff2010"/>
<rect x="198.27" y="445.08" width="54.39" height="5.58" fill="#ff1010"/>
<rect x="252.36" y="445.08" width="79.44" height="5.58" fill="#ff2e2e"/>
<rect x="36.00" y="450.36" width="54.39" height="5.58" fill="#000092"/>
<rect x="90.09" y="450.36" width="27.35" height="5.58" fill="#0838cc"/>
<rect x="117.14" y="450.36" width="108.48" height="5.58" fill="#ff2010"/>
<rect x="225.32" y="450.36" width="27.35" height="5.58" fill="#ff4a10"/>
<rect x="252.36" y="450.36" width="79.44" height="5.58" fill="#ff2e2e"/>
<rect x="36.00" y="455.64" width="54.39" height="5.58" fill="#000092"/>
<rect x="90.09" y="455.64" width="27.35" height="5.58" fill="#1068e0"/>
<rect x="117.14" y="455.64" width="27.35" height="5.58" fill="#a8ff58"/>
<rect x="144.18" y="455.64" width="27.35" height="5.58" fill="#ffaa10"/>
<rect x="171.23" y="455.64" width="27.35" height="5.58" fill="#ff2010"/>
<rect x="198.27" y="455.64" width="27.35" height="5.58" fill="#ff2e2e"/>
<rect x="225.32" y="455.64" width="27.35" height="5.58" fill="#ff2010"/>
<rect x="252.36" y="455.64" width="27.35" height="5.58" fill="#ff2e2e"/>
<rect x="279.41" y="455.64" width="27.35" height="5.58" fill="#ff4040"/>
<rect x="306.45" y="455.64" width="25.35" height="5.58" fill="#ff5555"/>
<rect x="36.00" y="460.92" width="54.39" height="5.58" fill="#000092"/>
<rect x="90.09" y="460.92" width="27.35" height="5.58" fill="#10acec"/>
<rect x="117.14" y="460.92" width="27.35" height="5.58" fill="#70ff90"/>
<rect x="144.18" y="460.92" width="27.35" height="5.58" fill="#ffea18"/>
<rect x="171.23" y="460.92" width="27.35" height="5.58" fill="#ff2010"/>
<rect x="198.27" y="460.92" width="27.35" height="5.58" fill="#ff2e2e"/>
<rect x="225.32" y="460.92" width="27.35" height="5.58" fill="#ff4040"/>
<rect x="252.36" y="460.92" width="27.35" height="5.58" fill="#ff2e2e"/>
<rect x="279.41" y="460.92" width="27.35" height="5.58" fill="#ff5555"/>
<rect x="306.45" y="460.92" width="25.35" height="5.58" fill="#ff4040"/>
<rect x="36.00" y="466.20" width="27.35" height="5.58" fill="#000092"/>
<rect x="63.05" y="466.20" width="27.35" height="5.58" fill="#0838cc"/>
<rect x="90.09" y="466.20" width="27.35" height="5.58" fill="#0010b8"/>
<rect x="117.14" y="466.20" width="54.39" height="5.58" fill="#ffaa10"/>
<rect x="171.23" y="466.20" width="27.35" height="5.58" fill="#ff2010"/>
<rect x="198.27" y="466.20" width="81.44" height="5.58" fill="#ff2e2e"/>
<rect x="279.41" y="466.20" width="52.39" height="5.58" fill="#ff4040"/>
<rect x="36.00" y="471.48" width="27.35" height="5.58" fill="#0010b8"/>
<rect x="63.05" y="471.48" width="27.35" height="5.58" fill="#000092"/>
<rect x="90.09" y="471.48" width="27.35" height="5.58" fill="#20ecf8"/>
<rect x="117.14" y="471.48" width="27.35" height="5.58" fill="#a8ff58"/>
<rect x="144.18" y="471.48" width="27.35" height="5.58" fill="#ff2010"/>
<rect x="171.23" y="471.48" width="27.35" height="5.58" fill="#ff4a10"/>
<rect x="198.27" y="471.48" width="81.44" height="5.58" fill="#ff2e2e"/>
<rect x="279.41" y="471.48" width="27.35" height="5.58" fill="#ff4040"/>
<rect x="306.45" y="471.48" width="25.35" height="5.58" fill="#ff2010"/>
<rect x="36.00" y="476.76" width="27.35" height="5.58" fill="#0010b8"/>
<rect x="63.05" y="476.76" width="54.39" height="5.58" fill="#10acec"/>
<rect x="117.14" y="476.76" width="27.35" height="5.58" fill="#44f8c0"/>
<rect x="144.18" y="476.76" width="27.35" height="5.58" fill="#ffea18"/>
<rect x="171.23" y="476.76" width="27.35" height="5.58" fill="#ff8a10"/>
<rect x="198.27" y="476.76" width="133.53" height="5.58" fill="#ff2e2e"/>
<rect x="36.00" y="482.04" width="27.35" height="5.58" fill="#d8ff28"/>
<rect x="63.05" y="482.04" width="54.39" height="5.58" fill="#20ecf8"/>
<rect x="117.14" y="482.04" width="27.35" height="5.58" fill="#ff8a10"/>
<rect x="144.18" y="482.04" width="54.39" height="5.58" fill="#ff2010"/>
<rect x="198.27" y="482.04" width="133.53" height="5.58" fill="#ff4040"/>
<rect x="36.00" y="487.32" width="27.35" height="5.58" fill="#20ecf8"/>
<rect x="63.05" y="487.32" width="27.35" height="5.58" fill="#a8ff58"/>
<rect x="90.09" y="487.32" width="27.35" height="5.58" fill="#ff2010"/>
<rect x="117.14" y="487.32" width="54.39" height="5.58" fill="#ff4040"/>
<rect x="171.23" y="487.32" width="27.35" height="5.58" fill="#ff2e2e"/>
<rect x="198.27" y="487.32" width="133.53" height="5.58" fill="#ff4040"/>
<rect x="332" y="0" width="20.5" height="212" fill="url(#cb1)"/>
<rect x="709.5" y="0" width="21" height="212" fill="url(#cb2)"/>
<rect x="332" y="281" width="20.5" height="211.5" fill="url(#cb1)"/>
</g>
<rect x="37.00" y="0.50" width="294.50" height="211.75" fill="none" stroke="#000" stroke-width="1.50"/>
<rect x="331.50" y="0.50" width="21.20" height="211.75" fill="none" stroke="#000" stroke-width="1.50"/>
<rect x="415.30" y="0.50" width="293.70" height="211.75" fill="none" stroke="#000" stroke-width="1.50"/>
<rect x="709.00" y="0.50" width="22.00" height="211.75" fill="none" stroke="#000" stroke-width="1.50"/>
<rect x="36.00" y="281.40" width="295.70" height="211.20" fill="none" stroke="#000" stroke-width="1.50"/>
<rect x="331.70" y="281.40" width="21.00" height="211.20" fill="none" stroke="#000" stroke-width="1.50"/>
<g stroke="#000" stroke-width="1.3"><line x1="37.00" y1="10.00" x2="43.00" y2="10.00"/><line x1="331.50" y1="10.00" x2="325.50" y2="10.00"/><line x1="37.00" y1="58.40" x2="43.00" y2="58.40"/><line x1="331.50" y1="58.40" x2="325.50" y2="58.40"/><line x1="37.00" y1="43.83" x2="40.00" y2="43.83"/><line x1="331.50" y1="43.83" x2="328.50" y2="43.83"/><line x1="37.00" y1="35.31" x2="40.00" y2="35.31"/><line x1="331.50" y1="35.31" x2="328.50" y2="35.31"/><line x1="37.00" y1="29.26" x2="40.00" y2="29.26"/><line x1="331.50" y1="29.26" x2="328.50" y2="29.26"/><line x1="37.00" y1="24.57" x2="40.00" y2="24.57"/><line x1="331.50" y1="24.57" x2="328.50" y2="24.57"/><line x1="37.00" y1="20.74" x2="40.00" y2="20.74"/><line x1="331.50" y1="20.74" x2="328.50" y2="20.74"/><line x1="37.00" y1="17.50" x2="40.00" y2="17.50"/><line x1="331.50" y1="17.50" x2="328.50" y2="17.50"/><line x1="37.00" y1="14.69" x2="40.00" y2="14.69"/><line x1="331.50" y1="14.69" x2="328.50" y2="14.69"/><line x1="37.00" y1="12.21" x2="40.00" y2="12.21"/><line x1="331.50" y1="12.21" x2="328.50" y2="12.21"/><line x1="37.00" y1="106.80" x2="43.00" y2="106.80"/><line x1="331.50" y1="106.80" x2="325.50" y2="106.80"/><line x1="37.00" y1="92.23" x2="40.00" y2="92.23"/><line x1="331.50" y1="92.23" x2="328.50" y2="92.23"/><line x1="37.00" y1="83.71" x2="40.00" y2="83.71"/><line x1="331.50" y1="83.71" x2="328.50" y2="83.71"/><line x1="37.00" y1="77.66" x2="40.00" y2="77.66"/><line x1="331.50" y1="77.66" x2="328.50" y2="77.66"/><line x1="37.00" y1="72.97" x2="40.00" y2="72.97"/><line x1="331.50" y1="72.97" x2="328.50" y2="72.97"/><line x1="37.00" y1="69.14" x2="40.00" y2="69.14"/><line x1="331.50" y1="69.14" x2="328.50" y2="69.14"/><line x1="37.00" y1="65.90" x2="40.00" y2="65.90"/><line x1="331.50" y1="65.90" x2="328.50" y2="65.90"/><line x1="37.00" y1="63.09" x2="40.00" y2="63.09"/><line x1="331.50" y1="63.09" x2="328.50" y2="63.09"/><line x1="37.00" y1="60.61" x2="40.00" y2="60.61"/><line x1="331.50" y1="60.61" x2="328.50" y2="60.61"/><line x1="37.00" y1="155.20" x2="43.00" y2="155.20"/><line x1="331.50" y1="155.20" x2="325.50" y2="155.20"/><line x1="37.00" y1="140.63" x2="40.00" y2="140.63"/><line x1="331.50" y1="140.63" x2="328.50" y2="140.63"/><line x1="37.00" y1="132.11" x2="40.00" y2="132.11"/><line x1="331.50" y1="132.11" x2="328.50" y2="132.11"/><line x1="37.00" y1="126.06" x2="40.00" y2="126.06"/><line x1="331.50" y1="126.06" x2="328.50" y2="126.06"/><line x1="37.00" y1="121.37" x2="40.00" y2="121.37"/><line x1="331.50" y1="121.37" x2="328.50" y2="121.37"/><line x1="37.00" y1="117.54" x2="40.00" y2="117.54"/><line x1="331.50" y1="117.54" x2="328.50" y2="117.54"/><line x1="37.00" y1="114.30" x2="40.00" y2="114.30"/><line x1="331.50" y1="114.30" x2="328.50" y2="114.30"/><line x1="37.00" y1="111.49" x2="40.00" y2="111.49"/><line x1="331.50" y1="111.49" x2="328.50" y2="111.49"/><line x1="37.00" y1="109.01" x2="40.00" y2="109.01"/><line x1="331.50" y1="109.01" x2="328.50" y2="109.01"/><line x1="37.00" y1="203.60" x2="43.00" y2="203.60"/><line x1="331.50" y1="203.60" x2="325.50" y2="203.60"/><line x1="37.00" y1="189.03" x2="40.00" y2="189.03"/><line x1="331.50" y1="189.03" x2="328.50" y2="189.03"/><line x1="37.00" y1="180.51" x2="40.00" y2="180.51"/><line x1="331.50" y1="180.51" x2="328.50" y2="180.51"/><line x1="37.00" y1="174.46" x2="40.00" y2="174.46"/><line x1="331.50" y1="174.46" x2="328.50" y2="174.46"/><line x1="37.00" y1="169.77" x2="40.00" y2="169.77"/><line x1="331.50" y1="169.77" x2="328.50" y2="169.77"/><line x1="37.00" y1="165.94" x2="40.00" y2="165.94"/><line x1="331.50" y1="165.94" x2="328.50" y2="165.94"/><line x1="37.00" y1="162.70" x2="40.00" y2="162.70"/><line x1="331.50" y1="162.70" x2="328.50" y2="162.70"/><line x1="37.00" y1="159.89" x2="40.00" y2="159.89"/><line x1="331.50" y1="159.89" x2="328.50" y2="159.89"/><line x1="37.00" y1="157.41" x2="40.00" y2="157.41"/><line x1="331.50" y1="157.41" x2="328.50" y2="157.41"/><line x1="43.09" y1="212.25" x2="43.09" y2="209.75"/><line x1="43.09" y1="0.50" x2="43.09" y2="3.00"/><line x1="75.25" y1="212.25" x2="75.25" y2="209.75"/><line x1="75.25" y1="0.50" x2="75.25" y2="3.00"/><line x1="100.20" y1="212.25" x2="100.20" y2="207.25"/><line x1="100.20" y1="0.50" x2="100.20" y2="5.50"/><line x1="120.59" y1="212.25" x2="120.59" y2="209.75"/><line x1="120.59" y1="0.50" x2="120.59" y2="3.00"/><line x1="137.82" y1="212.25" x2="137.82" y2="209.75"/><line x1="137.82" y1="0.50" x2="137.82" y2="3.00"/><line x1="152.75" y1="212.25" x2="152.75" y2="209.75"/><line x1="152.75" y1="0.50" x2="152.75" y2="3.00"/><line x1="165.92" y1="212.25" x2="165.92" y2="209.75"/><line x1="165.92" y1="0.50" x2="165.92" y2="3.00"/><line x1="177.70" y1="212.25" x2="177.70" y2="207.25"/><line x1="177.70" y1="0.50" x2="177.70" y2="5.50"/><line x1="255.20" y1="212.25" x2="255.20" y2="207.25"/><line x1="255.20" y1="0.50" x2="255.20" y2="5.50"/><line x1="300.53" y1="212.25" x2="300.53" y2="209.75"/><line x1="300.53" y1="0.50" x2="300.53" y2="3.00"/><line x1="420.89" y1="212.25" x2="420.89" y2="209.75"/><line x1="420.89" y1="0.50" x2="420.89" y2="3.00"/><line x1="453.05" y1="212.25" x2="453.05" y2="209.75"/><line x1="453.05" y1="0.50" x2="453.05" y2="3.00"/><line x1="478.00" y1="212.25" x2="478.00" y2="207.25"/><line x1="478.00" y1="0.50" x2="478.00" y2="5.50"/><line x1="498.39" y1="212.25" x2="498.39" y2="209.75"/><line x1="498.39" y1="0.50" x2="498.39" y2="3.00"/><line x1="515.62" y1="212.25" x2="515.62" y2="209.75"/><line x1="515.62" y1="0.50" x2="515.62" y2="3.00"/><line x1="530.55" y1="212.25" x2="530.55" y2="209.75"/><line x1="530.55" y1="0.50" x2="530.55" y2="3.00"/><line x1="543.72" y1="212.25" x2="543.72" y2="209.75"/><line x1="543.72" y1="0.50" x2="543.72" y2="3.00"/><line x1="555.50" y1="212.25" x2="555.50" y2="207.25"/><line x1="555.50" y1="0.50" x2="555.50" y2="5.50"/><line x1="633.00" y1="212.25" x2="633.00" y2="207.25"/><line x1="633.00" y1="0.50" x2="633.00" y2="5.50"/><line x1="678.33" y1="212.25" x2="678.33" y2="209.75"/><line x1="678.33" y1="0.50" x2="678.33" y2="3.00"/><line x1="415.30" y1="207.80" x2="420.30" y2="207.80"/><line x1="709.00" y1="207.80" x2="704.00" y2="207.80"/><line x1="415.30" y1="174.50" x2="418.30" y2="174.50"/><line x1="709.00" y1="174.50" x2="706.00" y2="174.50"/><line x1="415.30" y1="141.20" x2="420.30" y2="141.20"/><line x1="709.00" y1="141.20" x2="704.00" y2="141.20"/><line x1="415.30" y1="107.90" x2="418.30" y2="107.90"/><line x1="709.00" y1="107.90" x2="706.00" y2="107.90"/><line x1="415.30" y1="74.60" x2="420.30" y2="74.60"/><line x1="709.00" y1="74.60" x2="704.00" y2="74.60"/><line x1="415.30" y1="41.30" x2="418.30" y2="41.30"/><line x1="709.00" y1="41.30" x2="706.00" y2="41.30"/><line x1="415.30" y1="8.00" x2="420.30" y2="8.00"/><line x1="709.00" y1="8.00" x2="704.00" y2="8.00"/><line x1="36.00" y1="489.00" x2="41.00" y2="489.00"/><line x1="331.70" y1="489.00" x2="326.70" y2="489.00"/><line x1="36.00" y1="455.70" x2="39.00" y2="455.70"/><line x1="331.70" y1="455.70" x2="328.70" y2="455.70"/><line x1="36.00" y1="422.40" x2="41.00" y2="422.40"/><line x1="331.70" y1="422.40" x2="326.70" y2="422.40"/><line x1="36.00" y1="389.10" x2="39.00" y2="389.10"/><line x1="331.70" y1="389.10" x2="328.70" y2="389.10"/><line x1="36.00" y1="355.80" x2="41.00" y2="355.80"/><line x1="331.70" y1="355.80" x2="326.70" y2="355.80"/><line x1="36.00" y1="322.50" x2="39.00" y2="322.50"/><line x1="331.70" y1="322.50" x2="328.70" y2="322.50"/><line x1="36.00" y1="289.20" x2="41.00" y2="289.20"/><line x1="331.70" y1="289.20" x2="326.70" y2="289.20"/><line x1="317.20" y1="492.60" x2="317.20" y2="487.60"/><line x1="317.20" y1="281.40" x2="317.20" y2="286.40"/><line x1="250.30" y1="492.60" x2="250.30" y2="487.60"/><line x1="250.30" y1="281.40" x2="250.30" y2="286.40"/><line x1="270.44" y1="492.60" x2="270.44" y2="490.10"/><line x1="270.44" y1="281.40" x2="270.44" y2="283.90"/><line x1="282.22" y1="492.60" x2="282.22" y2="490.10"/><line x1="282.22" y1="281.40" x2="282.22" y2="283.90"/><line x1="290.58" y1="492.60" x2="290.58" y2="490.10"/><line x1="290.58" y1="281.40" x2="290.58" y2="283.90"/><line x1="297.06" y1="492.60" x2="297.06" y2="490.10"/><line x1="297.06" y1="281.40" x2="297.06" y2="283.90"/><line x1="302.36" y1="492.60" x2="302.36" y2="490.10"/><line x1="302.36" y1="281.40" x2="302.36" y2="283.90"/><line x1="306.84" y1="492.60" x2="306.84" y2="490.10"/><line x1="306.84" y1="281.40" x2="306.84" y2="283.90"/><line x1="310.72" y1="492.60" x2="310.72" y2="490.10"/><line x1="310.72" y1="281.40" x2="310.72" y2="283.90"/><line x1="314.14" y1="492.60" x2="314.14" y2="490.10"/><line x1="314.14" y1="281.40" x2="314.14" y2="283.90"/><line x1="183.40" y1="492.60" x2="183.40" y2="487.60"/><line x1="183.40" y1="281.40" x2="183.40" y2="286.40"/><line x1="203.54" y1="492.60" x2="203.54" y2="490.10"/><line x1="203.54" y1="281.40" x2="203.54" y2="283.90"/><line x1="215.32" y1="492.60" x2="215.32" y2="490.10"/><line x1="215.32" y1="281.40" x2="215.32" y2="283.90"/><line x1="223.68" y1="492.60" x2="223.68" y2="490.10"/><line x1="223.68" y1="281.40" x2="223.68" y2="283.90"/><line x1="230.16" y1="492.60" x2="230.16" y2="490.10"/><line x1="230.16" y1="281.40" x2="230.16" y2="283.90"/><line x1="235.46" y1="492.60" x2="235.46" y2="490.10"/><line x1="235.46" y1="281.40" x2="235.46" y2="283.90"/><line x1="239.94" y1="492.60" x2="239.94" y2="490.10"/><line x1="239.94" y1="281.40" x2="239.94" y2="283.90"/><line x1="243.82" y1="492.60" x2="243.82" y2="490.10"/><line x1="243.82" y1="281.40" x2="243.82" y2="283.90"/><line x1="247.24" y1="492.60" x2="247.24" y2="490.10"/><line x1="247.24" y1="281.40" x2="247.24" y2="283.90"/><line x1="116.50" y1="492.60" x2="116.50" y2="487.60"/><line x1="116.50" y1="281.40" x2="116.50" y2="286.40"/><line x1="136.64" y1="492.60" x2="136.64" y2="490.10"/><line x1="136.64" y1="281.40" x2="136.64" y2="283.90"/><line x1="148.42" y1="492.60" x2="148.42" y2="490.10"/><line x1="148.42" y1="281.40" x2="148.42" y2="283.90"/><line x1="156.78" y1="492.60" x2="156.78" y2="490.10"/><line x1="156.78" y1="281.40" x2="156.78" y2="283.90"/><line x1="163.26" y1="492.60" x2="163.26" y2="490.10"/><line x1="163.26" y1="281.40" x2="163.26" y2="283.90"/><line x1="168.56" y1="492.60" x2="168.56" y2="490.10"/><line x1="168.56" y1="281.40" x2="168.56" y2="283.90"/><line x1="173.04" y1="492.60" x2="173.04" y2="490.10"/><line x1="173.04" y1="281.40" x2="173.04" y2="283.90"/><line x1="176.92" y1="492.60" x2="176.92" y2="490.10"/><line x1="176.92" y1="281.40" x2="176.92" y2="283.90"/><line x1="180.34" y1="492.60" x2="180.34" y2="490.10"/><line x1="180.34" y1="281.40" x2="180.34" y2="283.90"/><line x1="49.60" y1="492.60" x2="49.60" y2="487.60"/><line x1="49.60" y1="281.40" x2="49.60" y2="286.40"/><line x1="69.74" y1="492.60" x2="69.74" y2="490.10"/><line x1="69.74" y1="281.40" x2="69.74" y2="283.90"/><line x1="81.52" y1="492.60" x2="81.52" y2="490.10"/><line x1="81.52" y1="281.40" x2="81.52" y2="283.90"/><line x1="89.88" y1="492.60" x2="89.88" y2="490.10"/><line x1="89.88" y1="281.40" x2="89.88" y2="283.90"/><line x1="96.36" y1="492.60" x2="96.36" y2="490.10"/><line x1="96.36" y1="281.40" x2="96.36" y2="283.90"/><line x1="101.66" y1="492.60" x2="101.66" y2="490.10"/><line x1="101.66" y1="281.40" x2="101.66" y2="283.90"/><line x1="106.14" y1="492.60" x2="106.14" y2="490.10"/><line x1="106.14" y1="281.40" x2="106.14" y2="283.90"/><line x1="110.02" y1="492.60" x2="110.02" y2="490.10"/><line x1="110.02" y1="281.40" x2="110.02" y2="283.90"/><line x1="113.44" y1="492.60" x2="113.44" y2="490.10"/><line x1="113.44" y1="281.40" x2="113.44" y2="283.90"/><line x1="331.50" y1="22.50" x2="335.50" y2="22.50"/><line x1="352.70" y1="22.50" x2="348.70" y2="22.50"/><line x1="331.50" y1="59.50" x2="335.50" y2="59.50"/><line x1="352.70" y1="59.50" x2="348.70" y2="59.50"/><line x1="331.50" y1="96.00" x2="335.50" y2="96.00"/><line x1="352.70" y1="96.00" x2="348.70" y2="96.00"/><line x1="331.50" y1="133.00" x2="335.50" y2="133.00"/><line x1="352.70" y1="133.00" x2="348.70" y2="133.00"/><line x1="331.50" y1="169.70" x2="335.50" y2="169.70"/><line x1="352.70" y1="169.70" x2="348.70" y2="169.70"/><line x1="331.50" y1="206.00" x2="335.50" y2="206.00"/><line x1="352.70" y1="206.00" x2="348.70" y2="206.00"/><line x1="331.70" y1="303.90" x2="335.70" y2="303.90"/><line x1="352.70" y1="303.90" x2="348.70" y2="303.90"/><line x1="331.70" y1="340.90" x2="335.70" y2="340.90"/><line x1="352.70" y1="340.90" x2="348.70" y2="340.90"/><line x1="331.70" y1="377.40" x2="335.70" y2="377.40"/><line x1="352.70" y1="377.40" x2="348.70" y2="377.40"/><line x1="331.70" y1="414.40" x2="335.70" y2="414.40"/><line x1="352.70" y1="414.40" x2="348.70" y2="414.40"/><line x1="331.70" y1="451.10" x2="335.70" y2="451.10"/><line x1="352.70" y1="451.10" x2="348.70" y2="451.10"/><line x1="331.70" y1="487.40" x2="335.70" y2="487.40"/><line x1="352.70" y1="487.40" x2="348.70" y2="487.40"/><line x1="709.00" y1="206.00" x2="713.00" y2="206.00"/><line x1="731.00" y1="206.00" x2="727.00" y2="206.00"/><line x1="709.00" y1="163.00" x2="713.00" y2="163.00"/><line x1="731.00" y1="163.00" x2="727.00" y2="163.00"/><line x1="709.00" y1="120.00" x2="713.00" y2="120.00"/><line x1="731.00" y1="120.00" x2="727.00" y2="120.00"/><line x1="709.00" y1="77.00" x2="713.00" y2="77.00"/><line x1="731.00" y1="77.00" x2="727.00" y2="77.00"/><line x1="709.00" y1="34.00" x2="713.00" y2="34.00"/><line x1="731.00" y1="34.00" x2="727.00" y2="34.00"/><line x1="709.00" y1="195.25" x2="711.50" y2="195.25"/><line x1="731.00" y1="195.25" x2="728.50" y2="195.25"/><line x1="709.00" y1="184.50" x2="711.50" y2="184.50"/><line x1="731.00" y1="184.50" x2="728.50" y2="184.50"/><line x1="709.00" y1="173.75" x2="711.50" y2="173.75"/><line x1="731.00" y1="173.75" x2="728.50" y2="173.75"/><line x1="709.00" y1="152.25" x2="711.50" y2="152.25"/><line x1="731.00" y1="152.25" x2="728.50" y2="152.25"/><line x1="709.00" y1="141.50" x2="711.50" y2="141.50"/><line x1="731.00" y1="141.50" x2="728.50" y2="141.50"/><line x1="709.00" y1="130.75" x2="711.50" y2="130.75"/><line x1="731.00" y1="130.75" x2="728.50" y2="130.75"/><line x1="709.00" y1="109.25" x2="711.50" y2="109.25"/><line x1="731.00" y1="109.25" x2="728.50" y2="109.25"/><line x1="709.00" y1="98.50" x2="711.50" y2="98.50"/><line x1="731.00" y1="98.50" x2="728.50" y2="98.50"/><line x1="709.00" y1="87.75" x2="711.50" y2="87.75"/><line x1="731.00" y1="87.75" x2="728.50" y2="87.75"/><line x1="709.00" y1="66.25" x2="711.50" y2="66.25"/><line x1="731.00" y1="66.25" x2="728.50" y2="66.25"/><line x1="709.00" y1="55.50" x2="711.50" y2="55.50"/><line x1="731.00" y1="55.50" x2="728.50" y2="55.50"/><line x1="709.00" y1="44.75" x2="711.50" y2="44.75"/><line x1="731.00" y1="44.75" x2="728.50" y2="44.75"/><line x1="709.00" y1="23.25" x2="711.50" y2="23.25"/><line x1="731.00" y1="23.25" x2="728.50" y2="23.25"/><line x1="709.00" y1="12.50" x2="711.50" y2="12.50"/><line x1="731.00" y1="12.50" x2="728.50" y2="12.50"/></g>
<circle cx="177.3" cy="16" r="4.8" fill="#000"/>
<circle cx="555.6" cy="168.6" r="4.8" fill="#000"/>
<circle cx="310.2" cy="449.3" r="4.8" fill="#000"/>
<g font-family="'Liberation Sans', sans-serif" font-weight="bold" fill="#000">
<text x="28.8" y="10.0" font-size="12" text-anchor="middle" transform="rotate(-90 28.8 10.0)">1</text>
<text x="28.8" y="58.4" font-size="12" text-anchor="middle" transform="rotate(-90 28.8 58.4)">0.1</text>
<text x="28.8" y="106.8" font-size="12" text-anchor="middle" transform="rotate(-90 28.8 106.8)">0.01</text>
<text x="28.8" y="155.0" font-size="12" text-anchor="middle" transform="rotate(-90 28.8 155.0)">10<tspan dy="-5.5" font-size="8">−3</tspan></text>
<text x="28.8" y="200.5" font-size="12" text-anchor="middle" transform="rotate(-90 28.8 200.5)">10<tspan dy="-5.5" font-size="8">−4</tspan></text>
<text x="9.5" y="106.0" font-size="12" text-anchor="middle" transform="rotate(-90 9.5 106.0)">q</text>
<text x="100.0" y="227.6" font-size="12" text-anchor="middle">0.5</text>
<text x="177.9" y="227.6" font-size="12" text-anchor="middle">1</text>
<text x="255.0" y="227.6" font-size="12" text-anchor="middle">2</text>
<text x="169.2" y="252.6" font-size="12" text-anchor="middle" font-family="'Liberation Serif', serif">s</text>
<text x="180.8" y="253.0" font-size="13" text-anchor="middle" font-family="'Liberation Serif', serif">(</text>
<text x="188.0" y="252.6" font-size="11" text-anchor="middle" font-family="'Liberation Serif', serif">R</text>
<text x="195.6" y="256.5" font-size="7.5" text-anchor="middle" font-family="'Liberation Serif', serif">E</text>
<text x="201.2" y="253.0" font-size="13" text-anchor="middle" font-family="'Liberation Serif', serif">)</text>
<text x="363.6" y="21.5" font-size="10" text-anchor="middle" transform="rotate(-90 363.6 21.5)">10<tspan dy="-4.5" font-size="6.8">5</tspan></text>
<text x="363.6" y="96.0" font-size="10" text-anchor="middle" transform="rotate(-90 363.6 96.0)">8×10<tspan dy="-4.5" font-size="6.8">4</tspan></text>
<text x="363.6" y="169.5" font-size="10" text-anchor="middle" transform="rotate(-90 363.6 169.5)">6×10<tspan dy="-4.5" font-size="6.8">4</tspan></text>
<text x="374.5" y="12.0" font-size="11" text-anchor="middle" transform="rotate(-90 374.5 12.0)">χ</text>
<text x="367.5" y="2.5" font-size="7" text-anchor="middle" transform="rotate(-90 367.5 2.5)">2</text>
<text x="407.0" y="7.5" font-size="12" text-anchor="middle" transform="rotate(-90 407.0 7.5)">6</text>
<text x="407.0" y="74.5" font-size="12" text-anchor="middle" transform="rotate(-90 407.0 74.5)">4</text>
<text x="407.0" y="141.4" font-size="12" text-anchor="middle" transform="rotate(-90 407.0 141.4)">2</text>
<text x="407.0" y="208.0" font-size="12" text-anchor="middle" transform="rotate(-90 407.0 208.0)">0</text>
<text x="387.5" y="106.5" font-size="13" text-anchor="middle" transform="rotate(-90 387.5 106.5)" font-style="italic">θ</text>
<text x="478.6" y="227.6" font-size="12" text-anchor="middle">0.5</text>
<text x="555.5" y="227.6" font-size="12" text-anchor="middle">1</text>
<text x="633.5" y="227.6" font-size="12" text-anchor="middle">2</text>
<text x="546.2" y="252.6" font-size="12" text-anchor="middle" font-family="'Liberation Serif', serif">s</text>
<text x="557.8" y="253.0" font-size="13" text-anchor="middle" font-family="'Liberation Serif', serif">(</text>
<text x="565.0" y="252.6" font-size="11" text-anchor="middle" font-family="'Liberation Serif', serif">R</text>
<text x="572.6" y="256.5" font-size="7.5" text-anchor="middle" font-family="'Liberation Serif', serif">E</text>
<text x="578.2" y="253.0" font-size="13" text-anchor="middle" font-family="'Liberation Serif', serif">)</text>
<text x="741.6" y="206.0" font-size="10" text-anchor="middle" transform="rotate(-90 741.6 206.0)">5×10<tspan dy="-4.5" font-size="6.8">4</tspan></text>
<text x="741.6" y="163.0" font-size="10" text-anchor="middle" transform="rotate(-90 741.6 163.0)">6×10<tspan dy="-4.5" font-size="6.8">4</tspan></text>
<text x="741.6" y="120.0" font-size="10" text-anchor="middle" transform="rotate(-90 741.6 120.0)">7×10<tspan dy="-4.5" font-size="6.8">4</tspan></text>
<text x="741.6" y="77.0" font-size="10" text-anchor="middle" transform="rotate(-90 741.6 77.0)">8×10<tspan dy="-4.5" font-size="6.8">4</tspan></text>
<text x="741.6" y="34.0" font-size="10" text-anchor="middle" transform="rotate(-90 741.6 34.0)">9×10<tspan dy="-4.5" font-size="6.8">4</tspan></text>
<text x="752.5" y="12.0" font-size="11" text-anchor="middle" transform="rotate(-90 752.5 12.0)">χ</text>
<text x="746.0" y="2.5" font-size="7" text-anchor="middle" transform="rotate(-90 746.0 2.5)">2</text>
<text x="28.8" y="288.6" font-size="12" text-anchor="middle" transform="rotate(-90 28.8 288.6)">6</text>
<text x="28.8" y="355.0" font-size="12" text-anchor="middle" transform="rotate(-90 28.8 355.0)">4</text>
<text x="28.8" y="422.0" font-size="12" text-anchor="middle" transform="rotate(-90 28.8 422.0)">2</text>
<text x="28.8" y="488.6" font-size="12" text-anchor="middle" transform="rotate(-90 28.8 488.6)">0</text>
<text x="10.2" y="385.5" font-size="13" text-anchor="middle" transform="rotate(-90 10.2 385.5)" font-style="italic">θ</text>
<text x="51.6" y="508.6" font-size="12" text-anchor="middle">10<tspan dy="-5.5" font-size="8">−4</tspan></text>
<text x="118.3" y="508.6" font-size="12" text-anchor="middle">10<tspan dy="-5.5" font-size="8">−3</tspan></text>
<text x="186.0" y="508.6" font-size="12" text-anchor="middle">0.01</text>
<text x="251.7" y="508.6" font-size="12" text-anchor="middle">0.1</text>
<text x="318.5" y="508.6" font-size="12" text-anchor="middle">1</text>
<text x="185.0" y="532.5" font-size="12" text-anchor="middle">q</text>
<text x="363.6" y="303.0" font-size="10" text-anchor="middle" transform="rotate(-90 363.6 303.0)">10<tspan dy="-4.5" font-size="6.8">5</tspan></text>
<text x="363.6" y="377.4" font-size="10" text-anchor="middle" transform="rotate(-90 363.6 377.4)">8×10<tspan dy="-4.5" font-size="6.8">4</tspan></text>
<text x="363.6" y="451.0" font-size="10" text-anchor="middle" transform="rotate(-90 363.6 451.0)">6×10<tspan dy="-4.5" font-size="6.8">4</tspan></text>
<text x="374.5" y="293.5" font-size="11" text-anchor="middle" transform="rotate(-90 374.5 293.5)">χ</text>
<text x="367.5" y="284.0" font-size="7" text-anchor="middle" transform="rotate(-90 367.5 284.0)">2</text>
</g>
</svg>
</body></html>
